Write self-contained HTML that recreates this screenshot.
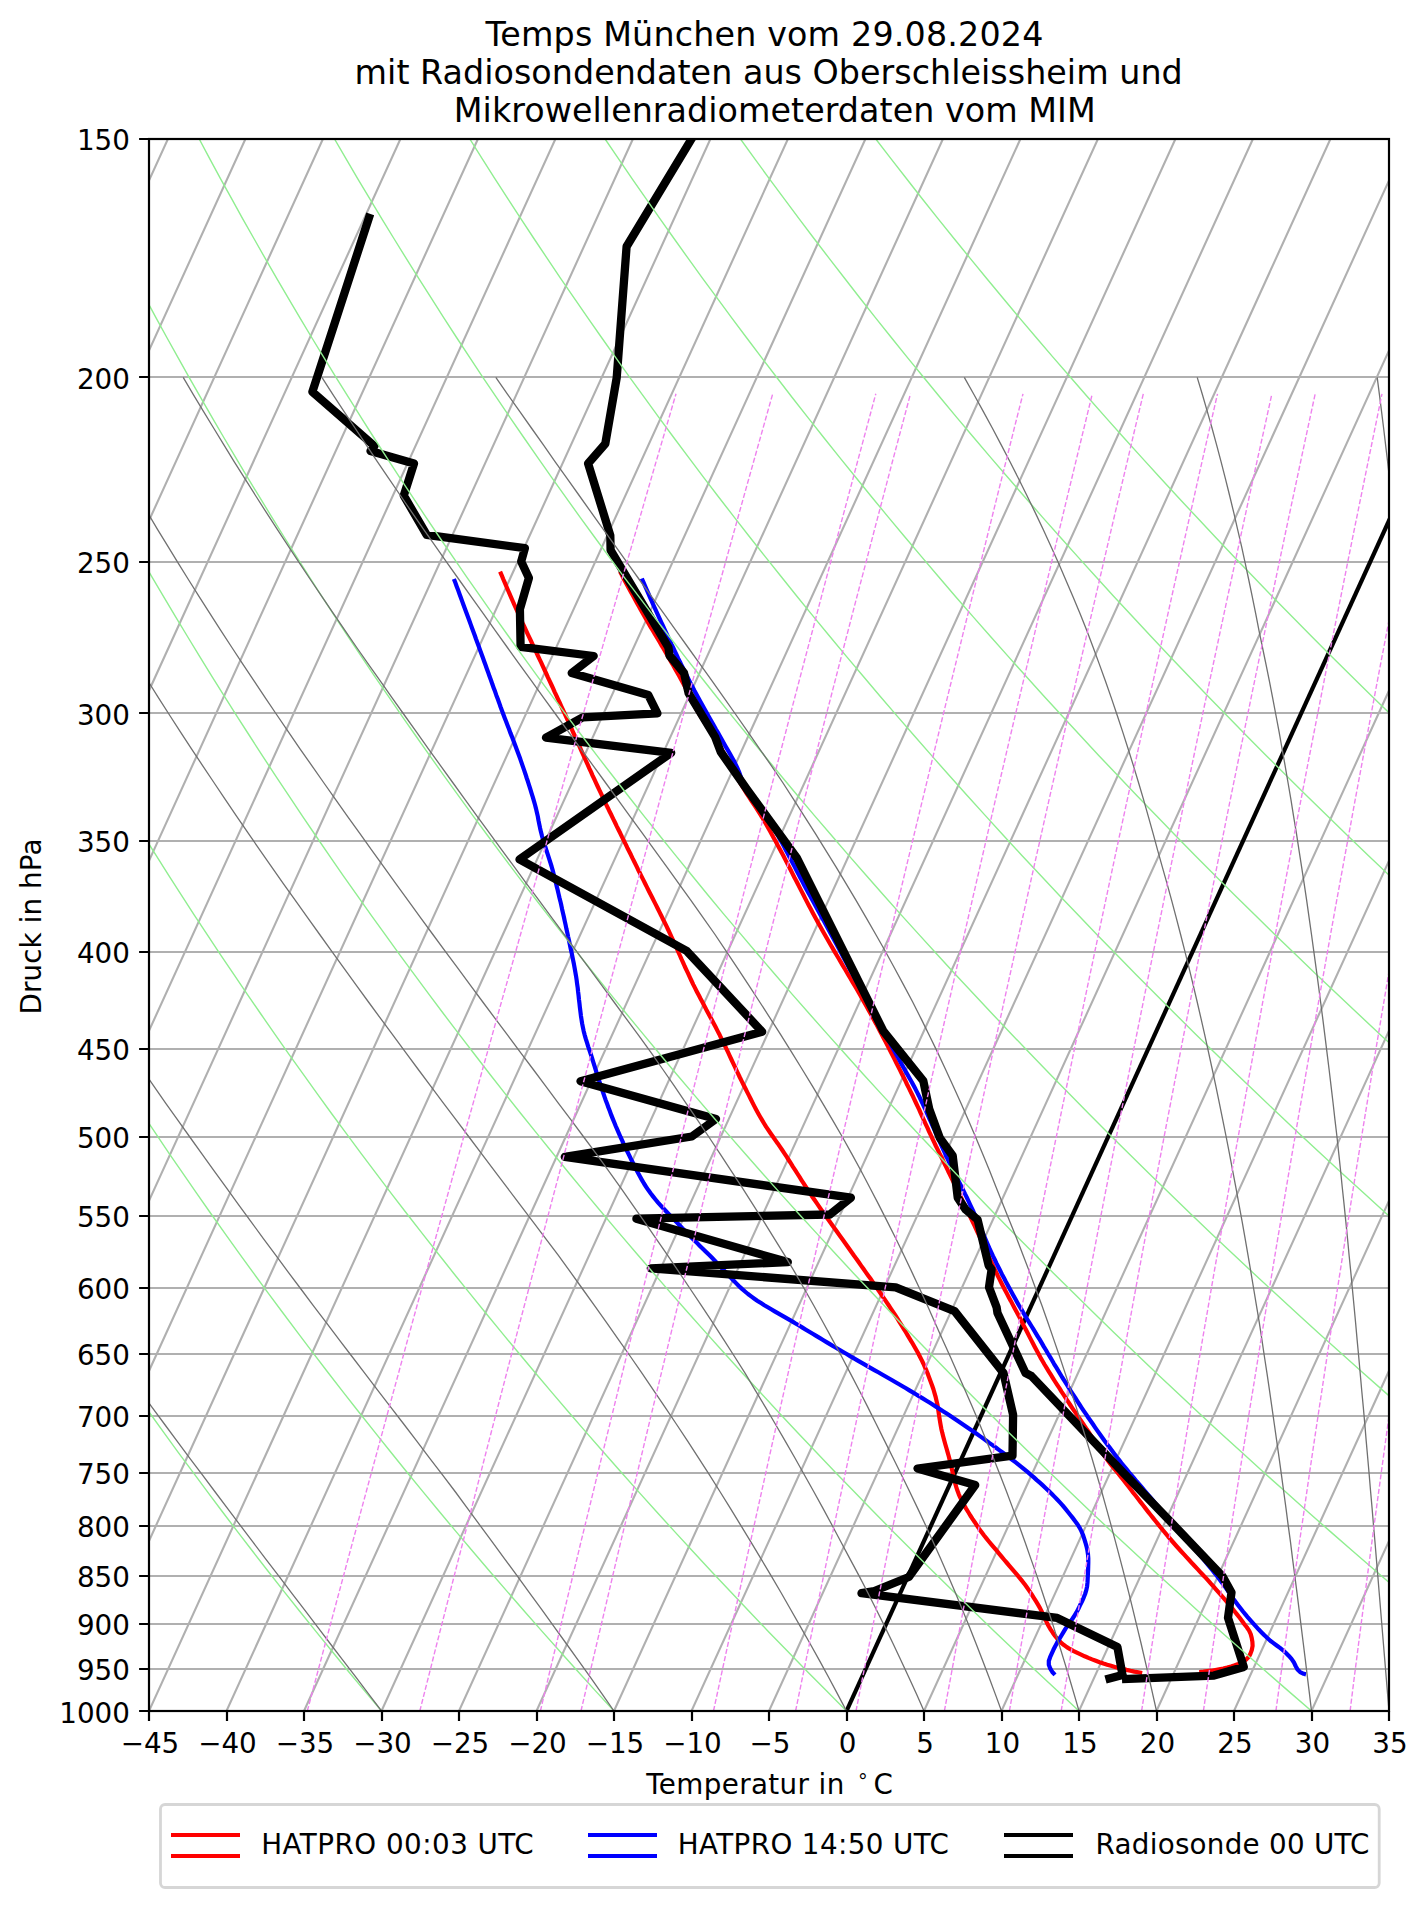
<!DOCTYPE html>
<html lang="de"><head><meta charset="utf-8"><title>Temps München</title>
<style>html,body{margin:0;padding:0;background:#fff}svg{display:block}</style></head><body>
<svg width="1427" height="1907" viewBox="0 0 1427 1907" font-family="DejaVu Sans, Liberation Sans, sans-serif" fill="#000">
<rect width="1427" height="1907" fill="#fff"/>
<defs><clipPath id="ax"><rect x="149.0" y="139.0" width="1240.0" height="1572.0"/></clipPath></defs>
<g clip-path="url(#ax)" fill="none" stroke-linejoin="round">
<path d="M149.0,377.0H1389.0M149.0,562.0H1389.0M149.0,713.0H1389.0M149.0,841.0H1389.0M149.0,952.0H1389.0M149.0,1049.0H1389.0M149.0,1137.0H1389.0M149.0,1216.0H1389.0M149.0,1288.0H1389.0M149.0,1354.0H1389.0M149.0,1416.0H1389.0M149.0,1473.0H1389.0M149.0,1526.0H1389.0M149.0,1576.0H1389.0M149.0,1624.0H1389.0M149.0,1669.0H1389.0" stroke="#b0b0b0" stroke-width="2.2"/>
<path d="M-1478.5,1711.0L-762.1,139.0M-1401.0,1711.0L-684.6,139.0M-1323.5,1711.0L-607.1,139.0M-1246.0,1711.0L-529.6,139.0M-1168.5,1711.0L-452.1,139.0M-1091.0,1711.0L-374.6,139.0M-1013.5,1711.0L-297.1,139.0M-936.0,1711.0L-219.6,139.0M-858.5,1711.0L-142.1,139.0M-781.0,1711.0L-64.6,139.0M-703.5,1711.0L12.9,139.0M-626.0,1711.0L90.4,139.0M-548.5,1711.0L167.9,139.0M-471.0,1711.0L245.4,139.0M-393.5,1711.0L322.9,139.0M-316.0,1711.0L400.4,139.0M-238.5,1711.0L477.9,139.0M-161.0,1711.0L555.4,139.0M-83.5,1711.0L632.9,139.0M-6.0,1711.0L710.4,139.0M71.5,1711.0L787.9,139.0M149.0,1711.0L865.4,139.0M226.5,1711.0L942.9,139.0M304.0,1711.0L1020.4,139.0M381.5,1711.0L1097.9,139.0M459.0,1711.0L1175.4,139.0M536.5,1711.0L1252.9,139.0M614.0,1711.0L1330.4,139.0M691.5,1711.0L1407.9,139.0M769.0,1711.0L1485.4,139.0M924.0,1711.0L1640.4,139.0M1001.5,1711.0L1717.9,139.0M1079.0,1711.0L1795.4,139.0M1156.5,1711.0L1872.9,139.0M1234.0,1711.0L1950.4,139.0M1311.5,1711.0L2027.9,139.0M1389.0,1711.0L2105.4,139.0" stroke="#b0b0b0" stroke-width="2.1"/>
<path d="M846.5,1711.0L1562.9,139.0" stroke="#000" stroke-width="4.2"/>
<path d="M620.0,571.6 L621.9,575.1 L623.7,578.7 L625.6,582.2 L627.5,585.7 L629.4,589.2 L631.3,592.8 L633.3,596.3 L635.2,599.8 L637.1,603.3 L639.1,606.8 L641.0,610.3 L643.0,613.7 L645.0,617.2 L647.0,620.7 L649.0,624.1 L651.0,627.6 L653.1,631.0 L655.1,634.5 L657.2,637.9 L659.2,641.3 L661.2,644.8 L663.3,648.2 L665.3,651.7 L667.3,655.1 L669.3,658.6 L671.3,662.1 L673.3,665.5 L675.2,669.0 L677.2,672.5 L679.2,676.0 L681.1,679.5 L683.0,683.0 L684.9,686.5 L686.8,690.1 L688.6,693.6 L690.4,697.2 L692.1,700.8 L693.9,704.4 L695.8,707.9 L697.7,711.4 L699.8,714.8 L701.9,718.2 L704.1,721.5 L706.4,724.8 L708.6,728.2 L710.9,731.5 L713.0,734.9 L715.1,738.3 L717.2,741.7 L719.2,745.1 L721.2,748.6 L723.2,752.1 L725.1,755.6 L727.0,759.1 L729.0,762.6 L730.9,766.1 L732.8,769.6 L734.8,773.1 L736.7,776.6 L738.7,780.1 L740.7,783.6 L742.7,787.0 L744.8,790.4 L746.9,793.8 L749.1,797.2 L751.3,800.5 L753.5,803.9 L755.7,807.2 L757.9,810.6 L760.0,813.9 L762.1,817.3 L764.1,820.8 L766.1,824.2 L768.1,827.7 L770.1,831.2 L772.0,834.7 L773.9,838.2 L775.9,841.7 L777.7,845.2 L779.6,848.7 L781.5,852.3 L783.4,855.8 L785.2,859.4 L787.0,862.9 L788.9,866.5 L790.7,870.0 L792.5,873.6 L794.3,877.2 L796.2,880.7 L798.0,884.3 L799.8,887.9 L801.6,891.4 L803.5,895.0 L805.3,898.6 L807.1,902.1 L809.0,905.7 L810.9,909.2 L812.7,912.7 L814.6,916.3 L816.5,919.8 L818.4,923.3 L820.4,926.8 L822.3,930.3 L824.3,933.8 L826.3,937.2 L828.3,940.7 L830.3,944.2 L832.3,947.6 L834.3,951.1 L836.3,954.5 L838.4,958.0 L840.4,961.4 L842.4,964.9 L844.5,968.3 L846.5,971.8 L848.5,975.2 L850.6,978.6 L852.6,982.1 L854.6,985.5 L856.7,989.0 L858.7,992.5 L860.7,995.9 L862.6,999.4 L864.6,1002.9 L866.6,1006.4 L868.5,1009.9 L870.5,1013.4 L872.4,1016.9 L874.3,1020.4 L876.2,1023.9 L878.0,1027.4 L879.9,1031.0 L881.8,1034.5 L883.6,1038.0 L885.5,1041.6 L887.3,1045.1 L889.2,1048.7 L891.0,1052.3 L892.8,1055.8 L894.6,1059.4 L896.4,1063.0 L898.2,1066.5 L900.0,1070.1 L901.8,1073.7 L903.6,1077.3 L905.4,1080.9 L907.1,1084.5 L908.9,1088.1 L910.6,1091.6 L912.4,1095.2 L914.1,1098.8 L915.8,1102.5 L917.5,1106.1 L919.2,1109.7 L920.8,1113.4 L922.5,1117.0 L924.1,1120.6 L925.8,1124.3 L927.5,1127.9 L929.1,1131.6 L930.8,1135.2 L932.5,1138.8 L934.2,1142.4 L935.9,1146.0 L937.7,1149.6 L939.4,1153.2 L941.2,1156.8 L943.0,1160.4 L944.7,1164.0 L946.5,1167.6 L948.2,1171.2 L950.0,1174.8 L951.7,1178.4 L953.5,1182.0 L955.2,1185.6 L957.0,1189.2 L958.7,1192.8 L960.5,1196.4 L962.2,1200.0 L964.0,1203.6 L965.7,1207.2 L967.5,1210.8 L969.2,1214.4 L970.9,1218.0 L972.6,1221.6 L974.3,1225.2 L976.0,1228.8 L977.7,1232.5 L979.4,1236.1 L981.1,1239.8 L982.7,1243.4 L984.4,1247.0 L986.0,1250.7 L987.7,1254.3 L989.4,1257.9 L991.1,1261.6 L992.8,1265.2 L994.5,1268.8 L996.2,1272.4 L997.9,1276.0 L999.7,1279.6 L1001.5,1283.2 L1003.3,1286.7 L1005.1,1290.3 L1007.0,1293.8 L1008.9,1297.4 L1010.8,1300.9 L1012.6,1304.4 L1014.5,1308.0 L1016.4,1311.5 L1018.3,1315.0 L1020.2,1318.6 L1022.0,1322.1 L1023.8,1325.7 L1025.7,1329.2 L1027.5,1332.8 L1029.3,1336.4 L1031.1,1339.9 L1033.0,1343.5 L1034.8,1347.0 L1036.7,1350.6 L1038.6,1354.1 L1040.5,1357.6 L1042.5,1361.0 L1044.5,1364.5 L1046.6,1367.9 L1048.7,1371.3 L1050.8,1374.7 L1052.9,1378.1 L1055.0,1381.5 L1057.2,1384.9 L1059.4,1388.2 L1061.5,1391.6 L1063.7,1394.9 L1065.9,1398.3 L1068.1,1401.6 L1070.3,1405.0 L1072.5,1408.3 L1074.8,1411.6 L1077.0,1414.9 L1079.3,1418.2 L1081.5,1421.5 L1083.8,1424.8 L1086.0,1428.2 L1088.3,1431.5 L1090.5,1434.8 L1092.7,1438.1 L1094.9,1441.4 L1097.1,1444.8 L1099.2,1448.2 L1101.4,1451.6 L1103.6,1454.9 L1106.0,1458.1 L1108.4,1461.3 L1110.8,1464.4 L1113.4,1467.6 L1115.9,1470.7 L1118.4,1473.8 L1120.9,1476.9 L1123.4,1480.0 L1125.9,1483.2 L1128.3,1486.3 L1130.8,1489.5 L1133.2,1492.7 L1135.7,1495.8 L1138.2,1499.0 L1140.6,1502.1 L1143.1,1505.3 L1145.5,1508.4 L1148.0,1511.6 L1150.5,1514.7 L1153.0,1517.9 L1155.5,1521.0 L1158.0,1524.1 L1160.5,1527.2 L1163.0,1530.3 L1165.6,1533.4 L1168.1,1536.5 L1170.7,1539.5 L1173.3,1542.5 L1175.9,1545.5 L1178.6,1548.5 L1181.3,1551.5 L1184.0,1554.4 L1186.7,1557.4 L1189.4,1560.3 L1192.1,1563.3 L1194.9,1566.2 L1197.6,1569.1 L1200.3,1572.1 L1203.0,1575.0 L1205.8,1577.9 L1208.5,1580.9 L1211.1,1583.9 L1213.8,1586.8 L1216.4,1589.8 L1219.1,1592.9 L1221.7,1595.9 L1224.3,1598.9 L1226.9,1602.0 L1229.4,1605.1 L1232.0,1608.1 L1234.5,1611.2 L1237.0,1614.4 L1239.5,1617.5 L1241.9,1620.7 L1244.2,1624.0 L1246.8,1627.2 L1249.1,1630.6 L1250.7,1634.1 L1251.7,1637.9 L1252.4,1641.9 L1252.6,1645.9 L1251.8,1650.0 L1250.4,1653.9 L1248.6,1657.1 L1245.9,1659.8 L1242.2,1662.1 L1238.4,1663.9 L1234.8,1665.3 L1231.1,1666.5 L1227.2,1667.6 L1223.2,1668.5 L1219.2,1669.3 L1215.3,1670.0 L1211.3,1670.7 L1207.4,1671.2 L1203.4,1671.7 L1199.4,1672.1 L1199.1,1672.1M500.1,571.6 L501.7,575.3 L503.2,579.0 L504.8,582.7 L506.3,586.3 L507.9,590.0 L509.5,593.7 L511.1,597.3 L512.7,601.0 L514.3,604.7 L516.0,608.3 L517.6,612.0 L519.2,615.6 L520.9,619.3 L522.5,622.9 L524.2,626.5 L525.9,630.2 L527.6,633.8 L529.3,637.4 L531.0,641.0 L532.7,644.6 L534.4,648.3 L536.1,651.9 L537.8,655.5 L539.5,659.1 L541.2,662.7 L542.9,666.4 L544.6,670.0 L546.3,673.6 L547.9,677.3 L549.6,680.9 L551.3,684.5 L553.0,688.2 L554.6,691.8 L556.3,695.4 L558.0,699.1 L559.7,702.7 L561.3,706.3 L563.0,710.0 L564.7,713.6 L566.3,717.2 L568.0,720.9 L569.6,724.5 L571.3,728.2 L572.9,731.8 L574.6,735.5 L576.2,739.1 L577.8,742.8 L579.5,746.4 L581.1,750.1 L582.7,753.7 L584.4,757.4 L586.0,761.0 L587.7,764.7 L589.3,768.3 L591.0,771.9 L592.6,775.6 L594.3,779.2 L596.0,782.9 L597.7,786.5 L599.4,790.1 L601.1,793.7 L602.8,797.3 L604.5,800.9 L606.2,804.6 L608.0,808.2 L609.7,811.8 L611.5,815.3 L613.2,818.9 L615.0,822.5 L616.7,826.1 L618.5,829.7 L620.3,833.3 L622.0,836.9 L623.8,840.5 L625.6,844.1 L627.3,847.7 L629.1,851.2 L630.9,854.8 L632.6,858.4 L634.4,862.0 L636.2,865.6 L637.9,869.2 L639.7,872.8 L641.5,876.4 L643.3,879.9 L645.1,883.5 L646.9,887.1 L648.7,890.7 L650.5,894.2 L652.3,897.8 L654.1,901.4 L655.9,904.9 L657.7,908.5 L659.5,912.1 L661.3,915.7 L663.0,919.3 L664.8,922.8 L666.6,926.4 L668.3,930.0 L670.0,933.7 L671.7,937.3 L673.4,940.9 L675.0,944.6 L676.7,948.2 L678.3,951.9 L679.9,955.5 L681.5,959.2 L683.2,962.8 L684.8,966.5 L686.5,970.1 L688.2,973.7 L689.9,977.4 L691.6,981.0 L693.3,984.6 L695.1,988.1 L696.9,991.7 L698.8,995.3 L700.6,998.8 L702.5,1002.3 L704.4,1005.9 L706.2,1009.4 L708.1,1012.9 L710.0,1016.5 L711.9,1020.0 L713.7,1023.5 L715.6,1027.1 L717.4,1030.6 L719.3,1034.2 L721.0,1037.8 L722.8,1041.4 L724.6,1045.0 L726.3,1048.6 L728.0,1052.2 L729.7,1055.8 L731.4,1059.5 L733.1,1063.1 L734.8,1066.7 L736.5,1070.3 L738.2,1073.9 L739.9,1077.5 L741.7,1081.1 L743.5,1084.7 L745.3,1088.3 L747.1,1091.9 L748.9,1095.4 L750.7,1099.0 L752.5,1102.6 L754.3,1106.1 L756.2,1109.7 L758.1,1113.2 L760.1,1116.7 L762.1,1120.1 L764.1,1123.5 L766.2,1126.9 L768.5,1130.2 L770.7,1133.5 L773.0,1136.8 L775.3,1140.1 L777.7,1143.4 L779.9,1146.7 L782.2,1150.0 L784.4,1153.3 L786.6,1156.7 L788.7,1160.0 L790.9,1163.4 L793.0,1166.8 L795.2,1170.1 L797.3,1173.5 L799.5,1176.9 L801.6,1180.3 L803.8,1183.7 L805.9,1187.0 L808.1,1190.4 L810.3,1193.7 L812.5,1197.0 L814.8,1200.3 L817.1,1203.6 L819.3,1206.9 L821.6,1210.2 L823.9,1213.5 L826.2,1216.7 L828.6,1220.0 L830.9,1223.2 L833.2,1226.5 L835.6,1229.7 L837.9,1233.0 L840.2,1236.2 L842.6,1239.5 L844.9,1242.7 L847.2,1246.0 L849.5,1249.3 L851.8,1252.5 L854.1,1255.8 L856.5,1259.0 L858.8,1262.3 L861.1,1265.6 L863.4,1268.8 L865.7,1272.1 L868.1,1275.4 L870.4,1278.6 L872.7,1281.9 L874.9,1285.2 L877.2,1288.5 L879.5,1291.8 L881.7,1295.1 L884.0,1298.4 L886.2,1301.7 L888.5,1305.0 L890.7,1308.3 L892.9,1311.7 L895.1,1315.0 L897.3,1318.4 L899.4,1321.8 L901.5,1325.2 L903.6,1328.6 L905.7,1332.0 L907.7,1335.4 L909.8,1338.9 L911.9,1342.3 L913.9,1345.8 L915.9,1349.3 L917.9,1352.8 L919.7,1356.3 L921.6,1359.9 L923.3,1363.5 L924.9,1367.1 L926.5,1370.7 L928.0,1374.4 L929.4,1378.2 L930.8,1381.9 L932.2,1385.7 L933.5,1389.5 L934.6,1393.4 L935.7,1397.2 L936.6,1401.1 L937.5,1405.0 L938.1,1408.9 L938.7,1412.9 L939.3,1416.9 L939.9,1420.8 L940.6,1424.8 L941.3,1428.7 L942.2,1432.6 L943.2,1436.5 L944.2,1440.3 L945.3,1444.2 L946.4,1448.0 L947.5,1451.9 L948.6,1455.8 L949.6,1459.6 L950.6,1463.5 L951.5,1467.4 L952.4,1471.4 L953.2,1475.3 L954.1,1479.2 L955.1,1483.1 L956.2,1486.9 L957.4,1490.6 L958.8,1494.3 L960.4,1497.9 L962.2,1501.5 L964.1,1505.1 L966.1,1508.6 L968.2,1512.0 L970.3,1515.5 L972.5,1518.9 L974.8,1522.2 L977.0,1525.6 L979.2,1528.9 L981.5,1532.1 L983.9,1535.3 L986.4,1538.4 L988.9,1541.5 L991.5,1544.6 L994.1,1547.7 L996.7,1550.7 L999.3,1553.8 L1001.8,1556.9 L1004.4,1560.0 L1007.0,1563.0 L1009.6,1566.1 L1012.2,1569.1 L1014.8,1572.1 L1017.4,1575.2 L1020.0,1578.3 L1022.5,1581.4 L1024.9,1584.6 L1027.2,1587.8 L1029.5,1591.1 L1031.7,1594.4 L1033.8,1597.8 L1035.9,1601.2 L1038.0,1604.7 L1040.0,1608.1 L1041.8,1611.7 L1043.5,1615.3 L1045.2,1619.0 L1046.9,1622.7 L1048.7,1626.2 L1050.7,1629.6 L1052.9,1632.9 L1055.3,1636.2 L1057.9,1639.4 L1060.7,1642.3 L1063.6,1644.8 L1066.8,1647.1 L1070.2,1649.2 L1073.7,1651.1 L1077.4,1652.9 L1081.1,1654.6 L1084.7,1656.3 L1088.4,1657.9 L1092.1,1659.4 L1095.8,1660.8 L1099.6,1662.2 L1103.4,1663.5 L1107.2,1664.7 L1111.0,1665.8 L1114.9,1666.9 L1118.7,1668.0 L1122.6,1668.9 L1126.5,1669.9 L1130.4,1670.8 L1134.3,1671.6 L1138.3,1672.3 L1142.2,1673.0" stroke="#ff0000" stroke-width="4.2" stroke-linecap="butt"/>
<path d="M641.8,578.5 L643.4,582.2 L645.0,585.8 L646.6,589.5 L648.2,593.2 L649.8,596.8 L651.4,600.5 L653.0,604.2 L654.7,607.8 L656.3,611.4 L658.0,615.1 L659.6,618.7 L661.3,622.4 L663.0,626.0 L664.7,629.6 L666.4,633.3 L668.0,636.9 L669.7,640.5 L671.4,644.1 L673.2,647.7 L674.9,651.3 L676.6,655.0 L678.3,658.6 L680.1,662.2 L681.8,665.8 L683.6,669.3 L685.4,672.9 L687.2,676.5 L689.0,680.1 L690.8,683.6 L692.7,687.2 L694.5,690.7 L696.4,694.2 L698.3,697.7 L700.2,701.2 L702.2,704.7 L704.1,708.2 L706.1,711.7 L708.0,715.2 L710.0,718.7 L712.0,722.2 L714.0,725.7 L715.9,729.2 L717.9,732.6 L719.8,736.1 L721.8,739.6 L723.7,743.1 L725.7,746.6 L727.8,750.1 L729.8,753.5 L731.7,757.0 L733.7,760.5 L735.5,764.1 L737.2,767.7 L738.8,771.3 L740.2,775.1 L741.7,778.9 L743.1,782.6 L744.7,786.3 L746.4,789.8 L748.4,793.2 L750.6,796.5 L753.0,799.7 L755.6,802.8 L758.1,805.9 L760.7,809.1 L763.2,812.2 L765.6,815.4 L767.8,818.8 L769.9,822.1 L772.0,825.5 L774.1,828.9 L776.1,832.4 L778.1,835.8 L780.0,839.3 L782.0,842.8 L783.9,846.3 L785.8,849.9 L787.6,853.4 L789.5,857.0 L791.4,860.5 L793.2,864.1 L795.1,867.6 L796.9,871.2 L798.8,874.7 L800.6,878.3 L802.5,881.8 L804.4,885.4 L806.3,888.9 L808.2,892.4 L810.2,895.9 L812.1,899.4 L814.0,902.9 L815.9,906.4 L817.8,910.0 L819.7,913.5 L821.6,917.0 L823.6,920.5 L825.5,924.0 L827.4,927.5 L829.3,931.0 L831.2,934.6 L833.1,938.1 L835.0,941.6 L836.9,945.1 L838.8,948.6 L840.7,952.1 L842.6,955.7 L844.5,959.2 L846.4,962.7 L848.3,966.2 L850.2,969.7 L852.2,973.2 L854.1,976.8 L856.0,980.3 L857.9,983.8 L859.8,987.3 L861.7,990.8 L863.6,994.4 L865.5,997.9 L867.4,1001.4 L869.3,1004.9 L871.2,1008.4 L873.1,1011.9 L875.0,1015.4 L876.9,1019.0 L878.8,1022.5 L880.7,1026.0 L882.7,1029.5 L884.6,1033.0 L886.5,1036.5 L888.4,1040.0 L890.3,1043.6 L892.2,1047.1 L894.1,1050.6 L896.1,1054.1 L898.0,1057.6 L899.9,1061.1 L901.9,1064.6 L903.8,1068.1 L905.8,1071.6 L907.8,1075.1 L909.7,1078.5 L911.7,1082.0 L913.6,1085.6 L915.5,1089.1 L917.3,1092.6 L919.1,1096.2 L920.8,1099.8 L922.5,1103.4 L924.2,1107.0 L925.9,1110.7 L927.5,1114.3 L929.1,1118.0 L930.8,1121.6 L932.4,1125.3 L934.0,1129.0 L935.6,1132.6 L937.3,1136.3 L938.9,1139.9 L940.6,1143.6 L942.2,1147.2 L943.9,1150.9 L945.5,1154.5 L947.2,1158.1 L948.9,1161.7 L950.7,1165.3 L952.4,1168.9 L954.2,1172.5 L956.1,1176.0 L957.9,1179.6 L959.7,1183.2 L961.5,1186.8 L963.3,1190.3 L965.0,1193.9 L966.8,1197.5 L968.5,1201.1 L970.2,1204.8 L971.9,1208.4 L973.6,1212.0 L975.2,1215.7 L976.8,1219.3 L978.4,1223.0 L980.0,1226.7 L981.6,1230.3 L983.2,1234.0 L984.8,1237.7 L986.4,1241.4 L988.0,1245.0 L989.6,1248.7 L991.3,1252.3 L992.9,1255.9 L994.7,1259.5 L996.4,1263.1 L998.2,1266.7 L1000.0,1270.3 L1001.8,1273.9 L1003.7,1277.4 L1005.5,1281.0 L1007.4,1284.5 L1009.3,1288.0 L1011.2,1291.5 L1013.1,1295.0 L1015.1,1298.5 L1017.0,1302.0 L1019.0,1305.5 L1021.1,1308.9 L1023.1,1312.4 L1025.2,1315.8 L1027.2,1319.2 L1029.3,1322.6 L1031.4,1326.0 L1033.5,1329.4 L1035.6,1332.8 L1037.7,1336.3 L1039.8,1339.7 L1041.8,1343.1 L1043.8,1346.6 L1045.9,1350.0 L1047.9,1353.5 L1050.0,1356.9 L1052.0,1360.3 L1054.0,1363.8 L1056.1,1367.2 L1058.2,1370.6 L1060.2,1374.0 L1062.3,1377.5 L1064.5,1380.8 L1066.6,1384.2 L1068.7,1387.6 L1070.8,1391.0 L1073.0,1394.4 L1075.2,1397.7 L1077.3,1401.1 L1079.5,1404.5 L1081.7,1407.8 L1083.9,1411.1 L1086.2,1414.4 L1088.4,1417.8 L1090.7,1421.0 L1093.0,1424.3 L1095.2,1427.6 L1097.5,1430.9 L1099.9,1434.2 L1102.2,1437.4 L1104.5,1440.7 L1106.9,1443.9 L1109.3,1447.1 L1111.7,1450.3 L1114.1,1453.5 L1116.5,1456.7 L1119.0,1459.8 L1121.4,1463.0 L1123.9,1466.1 L1126.5,1469.2 L1129.0,1472.3 L1131.6,1475.3 L1134.2,1478.4 L1136.7,1481.5 L1139.3,1484.5 L1141.9,1487.5 L1144.5,1490.6 L1147.1,1493.6 L1149.7,1496.7 L1152.3,1499.7 L1154.9,1502.8 L1157.5,1505.9 L1160.0,1508.9 L1162.6,1512.0 L1165.3,1515.0 L1167.9,1518.0 L1170.5,1521.0 L1173.1,1524.1 L1175.8,1527.1 L1178.4,1530.1 L1181.0,1533.1 L1183.7,1536.1 L1186.3,1539.2 L1188.9,1542.2 L1191.5,1545.2 L1194.1,1548.3 L1196.7,1551.3 L1199.3,1554.3 L1201.9,1557.4 L1204.4,1560.5 L1207.0,1563.6 L1209.5,1566.7 L1212.0,1569.8 L1214.5,1572.9 L1217.0,1576.0 L1219.4,1579.2 L1221.8,1582.4 L1224.2,1585.6 L1226.5,1588.9 L1228.7,1592.2 L1231.0,1595.5 L1233.3,1598.8 L1235.7,1602.0 L1238.1,1605.2 L1240.5,1608.3 L1243.0,1611.5 L1245.6,1614.6 L1248.1,1617.7 L1250.7,1620.7 L1253.4,1623.7 L1256.1,1626.6 L1258.8,1629.6 L1261.6,1632.4 L1264.4,1635.3 L1267.3,1638.0 L1270.3,1640.7 L1273.5,1643.1 L1276.7,1645.5 L1280.0,1647.9 L1283.1,1650.3 L1286.0,1653.0 L1288.9,1655.9 L1291.5,1658.9 L1293.8,1662.2 L1295.6,1666.0 L1297.5,1669.6 L1300.1,1672.1 L1303.7,1673.8 L1306.0,1674.4M453.9,578.9 L455.3,582.6 L456.7,586.4 L458.1,590.1 L459.5,593.9 L460.9,597.7 L462.2,601.4 L463.6,605.2 L465.0,608.9 L466.4,612.7 L467.8,616.4 L469.2,620.2 L470.5,623.9 L471.9,627.7 L473.3,631.4 L474.7,635.2 L476.0,639.0 L477.4,642.7 L478.8,646.5 L480.1,650.2 L481.5,654.0 L482.9,657.8 L484.2,661.5 L485.6,665.3 L486.9,669.0 L488.3,672.8 L489.6,676.6 L491.0,680.3 L492.3,684.1 L493.7,687.9 L495.1,691.6 L496.4,695.4 L497.8,699.1 L499.2,702.9 L500.5,706.7 L501.9,710.4 L503.3,714.2 L504.7,717.9 L506.1,721.6 L507.6,725.4 L509.0,729.1 L510.4,732.9 L511.9,736.6 L513.3,740.3 L514.7,744.1 L516.1,747.8 L517.5,751.6 L518.9,755.3 L520.3,759.1 L521.6,762.9 L522.9,766.6 L524.2,770.4 L525.5,774.2 L526.7,778.0 L528.0,781.8 L529.2,785.6 L530.4,789.4 L531.6,793.3 L532.8,797.1 L533.9,800.9 L535.0,804.8 L536.0,808.6 L536.9,812.5 L537.8,816.4 L538.5,820.4 L539.3,824.3 L540.1,828.2 L541.0,832.1 L542.0,836.0 L543.1,839.8 L544.3,843.6 L545.5,847.4 L546.7,851.3 L548.0,855.1 L549.2,858.9 L550.4,862.7 L551.6,866.5 L552.7,870.4 L553.7,874.2 L554.7,878.1 L555.7,882.0 L556.6,885.9 L557.6,889.7 L558.5,893.6 L559.4,897.5 L560.4,901.4 L561.3,905.3 L562.1,909.2 L563.0,913.1 L563.9,917.0 L564.7,920.9 L565.6,924.9 L566.4,928.8 L567.3,932.7 L568.1,936.6 L569.0,940.5 L569.8,944.4 L570.6,948.3 L571.5,952.2 L572.3,956.2 L573.1,960.1 L573.9,964.0 L574.6,967.9 L575.3,971.9 L576.0,975.8 L576.6,979.8 L577.1,983.7 L577.7,987.7 L578.1,991.7 L578.6,995.7 L579.0,999.7 L579.5,1003.7 L579.9,1007.6 L580.4,1011.6 L580.9,1015.6 L581.5,1019.5 L582.1,1023.4 L582.9,1027.3 L583.7,1031.2 L584.7,1035.1 L585.8,1038.9 L587.0,1042.7 L588.2,1046.6 L589.5,1050.4 L590.8,1054.2 L592.0,1058.0 L593.2,1061.8 L594.4,1065.7 L595.6,1069.5 L596.8,1073.3 L598.0,1077.1 L599.2,1080.9 L600.4,1084.7 L601.7,1088.5 L603.0,1092.3 L604.3,1096.1 L605.6,1099.9 L607.0,1103.6 L608.4,1107.4 L609.8,1111.1 L611.2,1114.9 L612.7,1118.6 L614.2,1122.3 L615.7,1126.0 L617.3,1129.7 L618.9,1133.3 L620.5,1137.0 L622.2,1140.6 L623.8,1144.3 L625.6,1147.9 L627.3,1151.5 L629.1,1155.1 L630.8,1158.7 L632.6,1162.3 L634.4,1165.9 L636.2,1169.5 L638.1,1173.1 L640.0,1176.6 L642.0,1180.1 L644.0,1183.5 L646.1,1186.8 L648.3,1190.1 L650.6,1193.3 L653.0,1196.4 L655.5,1199.5 L658.1,1202.6 L660.8,1205.6 L663.5,1208.5 L666.3,1211.5 L669.1,1214.4 L671.9,1217.3 L674.7,1220.2 L677.5,1223.1 L680.2,1226.0 L683.0,1228.9 L685.8,1231.8 L688.6,1234.6 L691.4,1237.5 L694.2,1240.3 L697.1,1243.1 L699.9,1245.9 L702.8,1248.7 L705.6,1251.5 L708.5,1254.3 L711.3,1257.1 L714.1,1260.0 L716.9,1262.9 L719.7,1265.8 L722.4,1268.8 L725.2,1271.7 L727.9,1274.7 L730.7,1277.6 L733.5,1280.5 L736.3,1283.4 L739.1,1286.2 L742.0,1288.9 L745.0,1291.5 L748.0,1294.0 L751.2,1296.4 L754.4,1298.7 L757.6,1300.9 L761.0,1303.1 L764.3,1305.2 L767.8,1307.3 L771.2,1309.3 L774.7,1311.4 L778.2,1313.4 L781.7,1315.4 L785.2,1317.4 L788.7,1319.4 L792.2,1321.4 L795.6,1323.5 L799.1,1325.5 L802.5,1327.6 L805.9,1329.7 L809.3,1331.8 L812.7,1333.8 L816.2,1335.9 L819.6,1337.9 L823.0,1340.0 L826.5,1342.1 L829.9,1344.1 L833.3,1346.2 L836.8,1348.2 L840.2,1350.3 L843.6,1352.3 L847.1,1354.3 L850.5,1356.4 L854.0,1358.4 L857.4,1360.4 L860.9,1362.4 L864.4,1364.4 L867.8,1366.4 L871.3,1368.4 L874.8,1370.3 L878.3,1372.3 L881.7,1374.3 L885.2,1376.3 L888.7,1378.3 L892.2,1380.3 L895.6,1382.3 L899.1,1384.3 L902.5,1386.3 L906.0,1388.3 L909.4,1390.4 L912.8,1392.4 L916.3,1394.5 L919.7,1396.6 L923.1,1398.6 L926.5,1400.7 L929.9,1402.8 L933.3,1405.0 L936.7,1407.1 L940.0,1409.3 L943.4,1411.5 L946.7,1413.6 L950.1,1415.8 L953.4,1418.0 L956.8,1420.3 L960.1,1422.5 L963.4,1424.7 L966.7,1427.0 L970.0,1429.2 L973.3,1431.5 L976.6,1433.8 L979.9,1436.1 L983.1,1438.4 L986.4,1440.7 L989.6,1443.1 L992.9,1445.4 L996.1,1447.8 L999.3,1450.1 L1002.6,1452.5 L1005.8,1454.9 L1009.0,1457.3 L1012.2,1459.7 L1015.4,1462.2 L1018.5,1464.6 L1021.6,1467.1 L1024.7,1469.7 L1027.8,1472.2 L1030.9,1474.8 L1033.9,1477.4 L1036.8,1480.1 L1039.8,1482.7 L1042.8,1485.4 L1045.8,1488.2 L1048.7,1490.9 L1051.6,1493.7 L1054.4,1496.6 L1057.2,1499.5 L1059.9,1502.4 L1062.6,1505.4 L1065.1,1508.4 L1067.6,1511.5 L1070.2,1514.7 L1072.7,1517.9 L1075.2,1521.2 L1077.6,1524.5 L1079.7,1527.9 L1081.5,1531.4 L1083.0,1535.0 L1084.2,1538.7 L1085.4,1542.5 L1086.5,1546.4 L1087.4,1550.4 L1088.0,1554.4 L1088.3,1558.4 L1088.3,1562.4 L1088.2,1566.4 L1088.1,1570.4 L1087.9,1574.4 L1087.7,1578.5 L1087.5,1582.4 L1087.1,1586.3 L1086.3,1590.2 L1085.1,1594.0 L1083.6,1597.8 L1081.9,1601.5 L1080.1,1605.2 L1078.4,1608.8 L1076.6,1612.2 L1074.5,1615.6 L1072.3,1619.0 L1070.0,1622.3 L1067.7,1625.6 L1065.4,1628.9 L1063.3,1632.4 L1061.3,1635.8 L1059.2,1639.2 L1057.1,1642.7 L1055.2,1646.2 L1053.4,1649.8 L1051.8,1653.4 L1050.1,1657.2 L1048.8,1661.0 L1048.8,1664.8 L1050.3,1668.7 L1052.3,1672.0 L1055.0,1674.9" stroke="#0000ff" stroke-width="4.2" stroke-linecap="butt"/>
<path d="M703.5,119.2 L691.4,139.2 L626.6,246.5 L616.7,377.7 L605.3,443.8 L588.1,463.5 L610.3,535.4 L610.6,550.1 L668.4,647.3 L669.5,655.5 L684.0,673.0 L688.6,693.2 L715.2,737.2 L720.7,751.9 L747.3,789.9 L796.7,857.7 L883.4,1031.1 L923.3,1080.9 L929.2,1108.8 L939.8,1137.9 L952.7,1155.8 L957.7,1197.6 L965.7,1209.6 L977.6,1219.6 L988.6,1265.4 L991.6,1269.4 L989.0,1287.3 L996.6,1307.2 L997.5,1313.0 L1025.5,1373.0 L1031.4,1376.0 L1125.1,1474.6 L1172.9,1524.1 L1222.8,1576.7 L1231.5,1592.4 L1228.0,1617.8 L1243.8,1666.9 L1214.0,1675.6 L1122.0,1679.1M370.2,213.9 L312.4,391.8 L374.4,446.0 L370.5,451.0 L414.0,463.5 L403.8,495.6 L426.7,534.9 L524.9,548.1 L521.2,561.5 L528.9,578.0 L519.9,609.2 L520.6,646.8 L593.7,656.0 L571.7,673.0 L648.3,695.0 L657.4,713.4 L582.7,717.4 L546.0,737.6 L671.2,752.8 L519.5,859.4 L686.6,950.9 L762.2,1031.8 L580.5,1081.2 L716.0,1119.0 L691.8,1136.5 L564.8,1156.9 L850.9,1197.7 L829.9,1214.5 L636.4,1218.7 L787.8,1262.1 L650.8,1268.3 L895.7,1287.4 L954.6,1311.2 L1003.4,1372.8 L1013.1,1414.7 L1012.5,1455.6 L917.5,1468.5 L975.2,1485.0 L908.8,1577.0 L874.4,1591.0 L861.5,1593.2 L1057.2,1617.9 L1117.4,1646.9 L1122.5,1674.9 L1105.5,1679.6" stroke="#000" stroke-width="8.3" stroke-linejoin="round" stroke-linecap="butt"/>
<path d="M381.5,1711.0 L364.8,1691.1 L348.3,1671.2 L332.0,1651.3 L315.9,1631.4 L299.9,1611.5 L284.1,1591.6 L268.5,1571.7 L253.0,1551.8 L237.7,1531.9 L222.6,1512.0 L207.7,1492.1 L192.9,1472.2 L178.2,1452.3 L163.7,1432.4 L149.4,1412.5 L135.3,1392.6 L121.3,1372.7 L107.5,1352.8 L93.8,1332.9 L80.3,1313.0 L66.9,1293.1 L53.7,1273.2 L40.6,1253.3 L27.7,1233.4 L14.9,1213.5 L2.3,1193.6 L-10.2,1173.7 L-22.5,1153.8 L-34.6,1133.9 L-46.7,1114.0 L-58.6,1094.1 L-70.3,1074.2 L-81.9,1054.3 L-93.4,1034.4 L-104.7,1014.5 L-115.9,994.6 L-126.9,974.7 L-137.8,954.8 L-148.6,934.9 L-159.2,915.1 L-169.7,895.2 L-180.1,875.3 L-190.3,855.4 L-200.4,835.5 L-210.4,815.6 L-220.2,795.7 L-229.9,775.8 L-239.5,755.9 L-248.9,736.0 L-258.3,716.1 L-267.5,696.2 L-276.5,676.3 L-285.5,656.4 L-294.3,636.5 L-303.0,616.6 L-311.6,596.7 L-320.1,576.8 L-328.4,556.9 L-336.6,537.0 L-344.8,517.1 L-352.8,497.2 L-360.6,477.3 L-368.4,457.4 L-376.0,437.5 L-383.6,417.6 L-391.0,397.7 L-398.3,377.8 L-405.5,357.9 L-412.6,338.0 L-419.5,318.1 L-426.4,298.2 L-433.1,278.3 L-439.8,258.4 L-446.3,238.5 L-452.8,218.6 L-459.1,198.7 L-465.3,178.8 L-471.4,158.9 L-477.4,139.0M614.0,1711.0 L595.7,1691.1 L577.7,1671.2 L559.8,1651.3 L542.1,1631.4 L524.6,1611.5 L507.3,1591.6 L490.1,1571.7 L473.1,1551.8 L456.3,1531.9 L439.7,1512.0 L423.3,1492.1 L407.0,1472.2 L390.9,1452.3 L375.0,1432.4 L359.2,1412.5 L343.6,1392.6 L328.2,1372.7 L313.0,1352.8 L297.9,1332.9 L283.0,1313.0 L268.2,1293.1 L253.6,1273.2 L239.2,1253.3 L224.9,1233.4 L210.8,1213.5 L196.9,1193.6 L183.1,1173.7 L169.4,1153.8 L156.0,1133.9 L142.6,1114.0 L129.5,1094.1 L116.4,1074.2 L103.6,1054.3 L90.8,1034.4 L78.3,1014.5 L65.8,994.6 L53.5,974.7 L41.4,954.8 L29.4,934.9 L17.6,915.1 L5.9,895.2 L-5.7,875.3 L-17.1,855.4 L-28.4,835.5 L-39.5,815.6 L-50.5,795.7 L-61.4,775.8 L-72.1,755.9 L-82.7,736.0 L-93.2,716.1 L-103.5,696.2 L-113.7,676.3 L-123.8,656.4 L-133.7,636.5 L-143.5,616.6 L-153.2,596.7 L-162.7,576.8 L-172.2,556.9 L-181.5,537.0 L-190.6,517.1 L-199.7,497.2 L-208.6,477.3 L-217.4,457.4 L-226.1,437.5 L-234.6,417.6 L-243.1,397.7 L-251.4,377.8 L-259.6,357.9 L-267.6,338.0 L-275.6,318.1 L-283.4,298.2 L-291.2,278.3 L-298.8,258.4 L-306.3,238.5 L-313.7,218.6 L-321.0,198.7 L-328.1,178.8 L-335.2,158.9 L-342.1,139.0M846.5,1711.0 L826.7,1691.1 L807.0,1671.2 L787.6,1651.3 L768.3,1631.4 L749.3,1611.5 L730.4,1591.6 L711.7,1571.7 L693.2,1551.8 L674.9,1531.9 L656.8,1512.0 L638.9,1492.1 L621.2,1472.2 L603.6,1452.3 L586.2,1432.4 L569.0,1412.5 L552.0,1392.6 L535.2,1372.7 L518.5,1352.8 L502.0,1332.9 L485.7,1313.0 L469.6,1293.1 L453.6,1273.2 L437.8,1253.3 L422.2,1233.4 L406.7,1213.5 L391.4,1193.6 L376.3,1173.7 L361.4,1153.8 L346.6,1133.9 L331.9,1114.0 L317.5,1094.1 L303.2,1074.2 L289.0,1054.3 L275.0,1034.4 L261.2,1014.5 L247.5,994.6 L234.0,974.7 L220.6,954.8 L207.4,934.9 L194.3,915.1 L181.4,895.2 L168.7,875.3 L156.1,855.4 L143.6,835.5 L131.3,815.6 L119.1,795.7 L107.1,775.8 L95.2,755.9 L83.5,736.0 L71.9,716.1 L60.4,696.2 L49.1,676.3 L37.9,656.4 L26.9,636.5 L16.0,616.6 L5.2,596.7 L-5.4,576.8 L-15.9,556.9 L-26.3,537.0 L-36.5,517.1 L-46.6,497.2 L-56.6,477.3 L-66.4,457.4 L-76.1,437.5 L-85.7,417.6 L-95.1,397.7 L-104.4,377.8 L-113.6,357.9 L-122.7,338.0 L-131.7,318.1 L-140.5,298.2 L-149.2,278.3 L-157.8,258.4 L-166.3,238.5 L-174.6,218.6 L-182.8,198.7 L-190.9,178.8 L-198.9,158.9 L-206.8,139.0M1079.0,1711.0 L1057.6,1691.1 L1036.4,1671.2 L1015.3,1651.3 L994.5,1631.4 L973.9,1611.5 L953.5,1591.6 L933.3,1571.7 L913.3,1551.8 L893.5,1531.9 L873.9,1512.0 L854.5,1492.1 L835.3,1472.2 L816.3,1452.3 L797.5,1432.4 L778.8,1412.5 L760.4,1392.6 L742.1,1372.7 L724.0,1352.8 L706.1,1332.9 L688.4,1313.0 L670.9,1293.1 L653.6,1273.2 L636.4,1253.3 L619.4,1233.4 L602.6,1213.5 L586.0,1193.6 L569.5,1173.7 L553.3,1153.8 L537.2,1133.9 L521.2,1114.0 L505.5,1094.1 L489.9,1074.2 L474.5,1054.3 L459.2,1034.4 L444.1,1014.5 L429.2,994.6 L414.4,974.7 L399.8,954.8 L385.4,934.9 L371.1,915.1 L357.0,895.2 L343.0,875.3 L329.2,855.4 L315.6,835.5 L302.1,815.6 L288.8,795.7 L275.6,775.8 L262.5,755.9 L249.7,736.0 L236.9,716.1 L224.3,696.2 L211.9,676.3 L199.6,656.4 L187.5,636.5 L175.5,616.6 L163.6,596.7 L151.9,576.8 L140.4,556.9 L128.9,537.0 L117.6,517.1 L106.5,497.2 L95.5,477.3 L84.6,457.4 L73.9,437.5 L63.3,417.6 L52.8,397.7 L42.5,377.8 L32.3,357.9 L22.2,338.0 L12.3,318.1 L2.4,298.2 L-7.2,278.3 L-16.8,258.4 L-26.2,238.5 L-35.5,218.6 L-44.7,198.7 L-53.7,178.8 L-62.7,158.9 L-71.5,139.0M1311.5,1711.0 L1288.5,1691.1 L1265.7,1671.2 L1243.1,1651.3 L1220.7,1631.4 L1198.6,1611.5 L1176.7,1591.6 L1154.9,1571.7 L1133.4,1551.8 L1112.1,1531.9 L1091.0,1512.0 L1070.1,1492.1 L1049.5,1472.2 L1029.0,1452.3 L1008.7,1432.4 L988.6,1412.5 L968.7,1392.6 L949.0,1372.7 L929.6,1352.8 L910.3,1332.9 L891.2,1313.0 L872.3,1293.1 L853.5,1273.2 L835.0,1253.3 L816.7,1233.4 L798.5,1213.5 L780.6,1193.6 L762.8,1173.7 L745.2,1153.8 L727.8,1133.9 L710.5,1114.0 L693.5,1094.1 L676.6,1074.2 L659.9,1054.3 L643.4,1034.4 L627.0,1014.5 L610.9,994.6 L594.9,974.7 L579.0,954.8 L563.4,934.9 L547.9,915.1 L532.6,895.2 L517.4,875.3 L502.4,855.4 L487.6,835.5 L472.9,815.6 L458.4,795.7 L444.1,775.8 L429.9,755.9 L415.9,736.0 L402.0,716.1 L388.3,696.2 L374.7,676.3 L361.3,656.4 L348.1,636.5 L335.0,616.6 L322.0,596.7 L309.3,576.8 L296.6,556.9 L284.1,537.0 L271.8,517.1 L259.6,497.2 L247.5,477.3 L235.6,457.4 L223.8,437.5 L212.2,417.6 L200.7,397.7 L189.4,377.8 L178.2,357.9 L167.1,338.0 L156.2,318.1 L145.4,298.2 L134.7,278.3 L124.2,258.4 L113.8,238.5 L103.6,218.6 L93.4,198.7 L83.4,178.8 L73.6,158.9 L63.9,139.0M1544.0,1711.0 L1519.4,1691.1 L1495.0,1671.2 L1470.9,1651.3 L1447.0,1631.4 L1423.3,1611.5 L1399.8,1591.6 L1376.6,1571.7 L1353.5,1551.8 L1330.7,1531.9 L1308.1,1512.0 L1285.8,1492.1 L1263.6,1472.2 L1241.7,1452.3 L1219.9,1432.4 L1198.4,1412.5 L1177.1,1392.6 L1156.0,1372.7 L1135.1,1352.8 L1114.4,1332.9 L1093.9,1313.0 L1073.6,1293.1 L1053.5,1273.2 L1033.6,1253.3 L1013.9,1233.4 L994.4,1213.5 L975.1,1193.6 L956.0,1173.7 L937.1,1153.8 L918.4,1133.9 L899.8,1114.0 L881.5,1094.1 L863.3,1074.2 L845.4,1054.3 L827.6,1034.4 L810.0,1014.5 L792.5,994.6 L775.3,974.7 L758.2,954.8 L741.4,934.9 L724.6,915.1 L708.1,895.2 L691.8,875.3 L675.6,855.4 L659.6,835.5 L643.7,815.6 L628.1,795.7 L612.6,775.8 L597.2,755.9 L582.1,736.0 L567.1,716.1 L552.2,696.2 L537.5,676.3 L523.0,656.4 L508.7,636.5 L494.5,616.6 L480.5,596.7 L466.6,576.8 L452.9,556.9 L439.3,537.0 L425.9,517.1 L412.7,497.2 L399.6,477.3 L386.6,457.4 L373.8,437.5 L361.2,417.6 L348.7,397.7 L336.3,377.8 L324.1,357.9 L312.0,338.0 L300.1,318.1 L288.3,298.2 L276.7,278.3 L265.2,258.4 L253.9,238.5 L242.6,218.6 L231.6,198.7 L220.6,178.8 L209.8,158.9 L199.2,139.0M1776.5,1711.0 L1750.3,1691.1 L1724.4,1671.2 L1698.7,1651.3 L1673.2,1631.4 L1647.9,1611.5 L1622.9,1591.6 L1598.2,1571.7 L1573.6,1551.8 L1549.3,1531.9 L1525.2,1512.0 L1501.4,1492.1 L1477.8,1472.2 L1454.3,1452.3 L1431.2,1432.4 L1408.2,1412.5 L1385.4,1392.6 L1362.9,1372.7 L1340.6,1352.8 L1318.5,1332.9 L1296.6,1313.0 L1274.9,1293.1 L1253.5,1273.2 L1232.2,1253.3 L1211.2,1233.4 L1190.3,1213.5 L1169.7,1193.6 L1149.3,1173.7 L1129.0,1153.8 L1109.0,1133.9 L1089.1,1114.0 L1069.5,1094.1 L1050.1,1074.2 L1030.8,1054.3 L1011.8,1034.4 L992.9,1014.5 L974.2,994.6 L955.7,974.7 L937.4,954.8 L919.3,934.9 L901.4,915.1 L883.7,895.2 L866.1,875.3 L848.7,855.4 L831.6,835.5 L814.5,815.6 L797.7,795.7 L781.0,775.8 L764.6,755.9 L748.3,736.0 L732.1,716.1 L716.2,696.2 L700.4,676.3 L684.7,656.4 L669.3,636.5 L654.0,616.6 L638.9,596.7 L623.9,576.8 L609.1,556.9 L594.5,537.0 L580.0,517.1 L565.7,497.2 L551.6,477.3 L537.6,457.4 L523.8,437.5 L510.1,417.6 L496.6,397.7 L483.2,377.8 L470.0,357.9 L456.9,338.0 L444.0,318.1 L431.3,298.2 L418.7,278.3 L406.2,258.4 L393.9,238.5 L381.7,218.6 L369.7,198.7 L357.8,178.8 L346.1,158.9 L334.5,139.0M2009.0,1711.0 L1981.2,1691.1 L1953.7,1671.2 L1926.4,1651.3 L1899.4,1631.4 L1872.6,1611.5 L1846.1,1591.6 L1819.8,1571.7 L1793.7,1551.8 L1767.9,1531.9 L1742.3,1512.0 L1717.0,1492.1 L1691.9,1472.2 L1667.0,1452.3 L1642.4,1432.4 L1618.0,1412.5 L1593.8,1392.6 L1569.9,1372.7 L1546.1,1352.8 L1522.6,1332.9 L1499.3,1313.0 L1476.3,1293.1 L1453.5,1273.2 L1430.8,1253.3 L1408.4,1233.4 L1386.2,1213.5 L1364.3,1193.6 L1342.5,1173.7 L1320.9,1153.8 L1299.6,1133.9 L1278.5,1114.0 L1257.5,1094.1 L1236.8,1074.2 L1216.3,1054.3 L1195.9,1034.4 L1175.8,1014.5 L1155.9,994.6 L1136.2,974.7 L1116.7,954.8 L1097.3,934.9 L1078.2,915.1 L1059.2,895.2 L1040.5,875.3 L1021.9,855.4 L1003.5,835.5 L985.4,815.6 L967.4,795.7 L949.5,775.8 L931.9,755.9 L914.5,736.0 L897.2,716.1 L880.1,696.2 L863.2,676.3 L846.4,656.4 L829.9,636.5 L813.5,616.6 L797.3,596.7 L781.3,576.8 L765.4,556.9 L749.7,537.0 L734.2,517.1 L718.8,497.2 L703.6,477.3 L688.6,457.4 L673.7,437.5 L659.0,417.6 L644.5,397.7 L630.1,377.8 L615.9,357.9 L601.9,338.0 L588.0,318.1 L574.2,298.2 L560.6,278.3 L547.2,258.4 L533.9,238.5 L520.8,218.6 L507.8,198.7 L495.0,178.8 L482.3,158.9 L469.8,139.0M2241.5,1711.0 L2212.1,1691.1 L2183.0,1671.2 L2154.2,1651.3 L2125.6,1631.4 L2097.3,1611.5 L2069.2,1591.6 L2041.4,1571.7 L2013.8,1551.8 L1986.5,1531.9 L1959.4,1512.0 L1932.6,1492.1 L1906.1,1472.2 L1879.7,1452.3 L1853.6,1432.4 L1827.8,1412.5 L1802.2,1392.6 L1776.8,1372.7 L1751.7,1352.8 L1726.8,1332.9 L1702.1,1313.0 L1677.6,1293.1 L1653.4,1273.2 L1629.4,1253.3 L1605.7,1233.4 L1582.1,1213.5 L1558.8,1193.6 L1535.7,1173.7 L1512.9,1153.8 L1490.2,1133.9 L1467.8,1114.0 L1445.5,1094.1 L1423.5,1074.2 L1401.7,1054.3 L1380.1,1034.4 L1358.8,1014.5 L1337.6,994.6 L1316.6,974.7 L1295.9,954.8 L1275.3,934.9 L1255.0,915.1 L1234.8,895.2 L1214.8,875.3 L1195.1,855.4 L1175.5,835.5 L1156.2,815.6 L1137.0,795.7 L1118.0,775.8 L1099.2,755.9 L1080.7,736.0 L1062.2,716.1 L1044.0,696.2 L1026.0,676.3 L1008.2,656.4 L990.5,636.5 L973.0,616.6 L955.7,596.7 L938.6,576.8 L921.7,556.9 L904.9,537.0 L888.3,517.1 L871.9,497.2 L855.7,477.3 L839.6,457.4 L823.7,437.5 L808.0,417.6 L792.4,397.7 L777.0,377.8 L761.8,357.9 L746.8,338.0 L731.9,318.1 L717.2,298.2 L702.6,278.3 L688.2,258.4 L674.0,238.5 L659.9,218.6 L646.0,198.7 L632.2,178.8 L618.6,158.9 L605.1,139.0M2474.0,1711.0 L2443.0,1691.1 L2412.4,1671.2 L2382.0,1651.3 L2351.8,1631.4 L2322.0,1611.5 L2292.3,1591.6 L2263.0,1571.7 L2233.9,1551.8 L2205.1,1531.9 L2176.6,1512.0 L2148.3,1492.1 L2120.2,1472.2 L2092.4,1452.3 L2064.9,1432.4 L2037.6,1412.5 L2010.5,1392.6 L1983.7,1372.7 L1957.2,1352.8 L1930.9,1332.9 L1904.8,1313.0 L1879.0,1293.1 L1853.4,1273.2 L1828.0,1253.3 L1802.9,1233.4 L1778.0,1213.5 L1753.4,1193.6 L1729.0,1173.7 L1704.8,1153.8 L1680.8,1133.9 L1657.1,1114.0 L1633.5,1094.1 L1610.2,1074.2 L1587.2,1054.3 L1564.3,1034.4 L1541.7,1014.5 L1519.3,994.6 L1497.1,974.7 L1475.1,954.8 L1453.3,934.9 L1431.7,915.1 L1410.4,895.2 L1389.2,875.3 L1368.3,855.4 L1347.5,835.5 L1327.0,815.6 L1306.7,795.7 L1286.5,775.8 L1266.6,755.9 L1246.8,736.0 L1227.3,716.1 L1208.0,696.2 L1188.8,676.3 L1169.9,656.4 L1151.1,636.5 L1132.5,616.6 L1114.1,596.7 L1095.9,576.8 L1077.9,556.9 L1060.1,537.0 L1042.4,517.1 L1025.0,497.2 L1007.7,477.3 L990.6,457.4 L973.7,437.5 L956.9,417.6 L940.4,397.7 L924.0,377.8 L907.7,357.9 L891.7,338.0 L875.8,318.1 L860.1,298.2 L844.6,278.3 L829.2,258.4 L814.0,238.5 L799.0,218.6 L784.1,198.7 L769.4,178.8 L754.8,158.9 L740.5,139.0M2706.5,1711.0 L2674.0,1691.1 L2641.7,1671.2 L2609.7,1651.3 L2578.0,1631.4 L2546.6,1611.5 L2515.5,1591.6 L2484.6,1571.7 L2454.0,1551.8 L2423.7,1531.9 L2393.7,1512.0 L2363.9,1492.1 L2334.4,1472.2 L2305.1,1452.3 L2276.1,1432.4 L2247.4,1412.5 L2218.9,1392.6 L2190.7,1372.7 L2162.7,1352.8 L2135.0,1332.9 L2107.5,1313.0 L2080.3,1293.1 L2053.4,1273.2 L2026.6,1253.3 L2000.2,1233.4 L1973.9,1213.5 L1947.9,1193.6 L1922.2,1173.7 L1896.7,1153.8 L1871.4,1133.9 L1846.4,1114.0 L1821.6,1094.1 L1797.0,1074.2 L1772.6,1054.3 L1748.5,1034.4 L1724.6,1014.5 L1700.9,994.6 L1677.5,974.7 L1654.3,954.8 L1631.3,934.9 L1608.5,915.1 L1585.9,895.2 L1563.6,875.3 L1541.4,855.4 L1519.5,835.5 L1497.8,815.6 L1476.3,795.7 L1455.0,775.8 L1433.9,755.9 L1413.0,736.0 L1392.4,716.1 L1371.9,696.2 L1351.6,676.3 L1331.6,656.4 L1311.7,636.5 L1292.0,616.6 L1272.5,596.7 L1253.3,576.8 L1234.2,556.9 L1215.3,537.0 L1196.6,517.1 L1178.1,497.2 L1159.7,477.3 L1141.6,457.4 L1123.6,437.5 L1105.9,417.6 L1088.3,397.7 L1070.9,377.8 L1053.6,357.9 L1036.6,338.0 L1019.7,318.1 L1003.1,298.2 L986.5,278.3 L970.2,258.4 L954.0,238.5 L938.0,218.6 L922.2,198.7 L906.6,178.8 L891.1,158.9 L875.8,139.0" stroke="#90ee90" stroke-width="1.4"/>
<path d="M381.5,1711.0 L368.7,1694.1 L355.9,1677.2 L343.0,1660.4 L330.1,1643.5 L317.3,1626.6 L304.4,1609.7 L291.5,1592.8 L278.7,1575.9 L265.8,1559.1 L253.0,1542.2 L240.3,1525.3 L227.5,1508.4 L214.8,1491.5 L202.2,1474.7 L189.5,1457.8 L176.9,1440.9 L164.4,1424.0 L151.9,1407.1 L139.5,1390.3 L127.2,1373.4 L115.0,1356.5 L102.8,1339.6 L90.7,1322.7 L78.7,1305.8 L66.9,1289.0 L55.1,1272.1 L43.5,1255.2 L32.0,1238.3 L20.6,1221.4 L9.2,1204.6 L-2.0,1187.7 L-13.1,1170.8 L-24.1,1153.9 L-35.0,1137.0 L-45.6,1120.2 L-56.2,1103.3 L-66.6,1086.4 L-77.0,1069.5 L-87.2,1052.6 L-97.4,1035.7 L-107.4,1018.9 L-117.4,1002.0 L-127.3,985.1 L-137.1,968.2 L-146.8,951.3 L-156.3,934.5 L-165.8,917.6 L-175.2,900.7 L-184.5,883.8 L-193.6,866.9 L-202.5,850.1 L-211.3,833.2 L-220.0,816.3 L-228.7,799.4 L-237.2,782.5 L-245.7,765.6 L-254.0,748.8 L-262.3,731.9 L-270.4,715.0 L-278.5,698.1 L-286.5,681.2 L-294.4,664.4 L-302.2,647.5 L-309.9,630.6 L-317.5,613.7 L-325.0,596.8 L-332.5,580.0 L-339.8,563.1 L-347.1,546.2 L-354.3,529.3 L-361.4,512.4 L-368.4,495.5 L-375.3,478.7 L-382.2,461.8 L-388.9,444.9 L-395.6,428.0 L-402.2,411.1 L-408.7,394.3 L-415.1,377.4M614.0,1711.0 L602.2,1694.1 L590.3,1677.2 L578.3,1660.4 L566.2,1643.5 L554.0,1626.6 L541.8,1609.7 L529.5,1592.8 L517.2,1575.9 L504.8,1559.1 L492.4,1542.2 L480.0,1525.3 L467.5,1508.4 L455.1,1491.5 L442.3,1474.7 L429.4,1457.8 L416.6,1440.9 L403.7,1424.0 L390.7,1407.1 L377.8,1390.3 L364.9,1373.4 L352.0,1356.5 L339.1,1339.6 L326.3,1322.7 L313.5,1305.8 L300.9,1289.0 L288.2,1272.1 L275.7,1255.2 L263.2,1238.3 L250.8,1221.4 L238.5,1204.6 L226.3,1187.7 L214.1,1170.8 L201.9,1153.9 L189.8,1137.0 L177.8,1120.2 L165.8,1103.3 L154.0,1086.4 L142.4,1069.5 L130.8,1052.6 L119.3,1035.7 L107.9,1018.9 L96.6,1002.0 L85.5,985.1 L74.4,968.2 L63.4,951.3 L52.6,934.5 L42.0,917.6 L31.4,900.7 L21.0,883.8 L10.7,866.9 L0.5,850.1 L-9.7,833.2 L-19.7,816.3 L-29.6,799.4 L-39.5,782.5 L-49.2,765.6 L-58.9,748.8 L-68.4,731.9 L-77.9,715.0 L-87.3,698.1 L-96.5,681.2 L-105.5,664.4 L-114.4,647.5 L-123.2,630.6 L-131.9,613.7 L-140.5,596.8 L-149.0,580.0 L-157.5,563.1 L-165.8,546.2 L-174.0,529.3 L-182.2,512.4 L-190.2,495.5 L-198.2,478.7 L-206.0,461.8 L-213.8,444.9 L-221.5,428.0 L-229.1,411.1 L-236.6,394.3 L-244.0,377.4M846.5,1711.0 L837.6,1694.1 L828.6,1677.2 L819.4,1660.4 L810.0,1643.5 L800.4,1626.6 L790.8,1609.7 L781.1,1592.8 L771.2,1575.9 L761.2,1559.1 L751.0,1542.2 L740.8,1525.3 L730.4,1508.4 L719.9,1491.5 L709.3,1474.7 L698.5,1457.8 L687.5,1440.9 L676.3,1424.0 L665.0,1407.1 L653.6,1390.3 L642.1,1373.4 L630.4,1356.5 L618.5,1339.6 L606.6,1322.7 L594.7,1305.8 L582.6,1289.0 L570.5,1272.1 L558.2,1255.2 L545.5,1238.3 L532.7,1221.4 L520.0,1204.6 L507.2,1187.7 L494.5,1170.8 L481.7,1153.9 L469.0,1137.0 L456.3,1120.2 L443.6,1103.3 L430.9,1086.4 L418.3,1069.5 L405.8,1052.6 L393.3,1035.7 L380.9,1018.9 L368.5,1002.0 L356.2,985.1 L343.9,968.2 L331.8,951.3 L319.7,934.5 L307.6,917.6 L295.5,900.7 L283.5,883.8 L271.6,866.9 L259.9,850.1 L248.2,833.2 L236.7,816.3 L225.2,799.4 L213.9,782.5 L202.6,765.6 L191.5,748.8 L180.4,731.9 L169.5,715.0 L158.7,698.1 L148.1,681.2 L137.6,664.4 L127.2,647.5 L116.8,630.6 L106.6,613.7 L96.5,596.8 L86.5,580.0 L76.6,563.1 L66.7,546.2 L57.0,529.3 L47.3,512.4 L37.8,495.5 L28.3,478.7 L19.0,461.8 L9.8,444.9 L0.8,428.0 L-8.1,411.1 L-16.9,394.3 L-25.6,377.4M924.0,1711.0 L916.5,1694.1 L908.8,1677.2 L901.0,1660.4 L893.0,1643.5 L884.8,1626.6 L876.4,1609.7 L867.8,1592.8 L859.1,1575.9 L850.1,1559.1 L841.1,1542.2 L832.1,1525.3 L823.0,1508.4 L813.7,1491.5 L804.3,1474.7 L794.8,1457.8 L785.1,1440.9 L775.3,1424.0 L765.4,1407.1 L755.3,1390.3 L745.2,1373.4 L734.5,1356.5 L723.7,1339.6 L712.7,1322.7 L701.6,1305.8 L690.3,1289.0 L679.0,1272.1 L667.5,1255.2 L655.9,1238.3 L644.2,1221.4 L632.4,1204.6 L620.6,1187.7 L608.6,1170.8 L596.3,1153.9 L583.7,1137.0 L571.2,1120.2 L558.5,1103.3 L545.9,1086.4 L533.3,1069.5 L520.6,1052.6 L508.0,1035.7 L495.4,1018.9 L482.8,1002.0 L470.3,985.1 L457.8,968.2 L445.3,951.3 L432.9,934.5 L420.5,917.6 L408.2,900.7 L396.0,883.8 L383.8,866.9 L371.7,850.1 L359.6,833.2 L347.5,816.3 L335.5,799.4 L323.6,782.5 L311.8,765.6 L300.0,748.8 L288.4,731.9 L276.9,715.0 L265.5,698.1 L254.2,681.2 L243.0,664.4 L231.9,647.5 L220.9,630.6 L210.0,613.7 L199.3,596.8 L188.7,580.0 L178.2,563.1 L167.8,546.2 L157.5,529.3 L147.4,512.4 L137.3,495.5 L127.3,478.7 L117.4,461.8 L107.6,444.9 L97.9,428.0 L88.2,411.1 L78.7,394.3 L69.3,377.4M1001.5,1711.0 L995.3,1694.1 L989.0,1677.2 L982.6,1660.4 L976.0,1643.5 L969.3,1626.6 L962.4,1609.7 L955.4,1592.8 L948.2,1575.9 L940.8,1559.1 L933.3,1542.2 L925.6,1525.3 L917.7,1508.4 L909.6,1491.5 L901.4,1474.7 L893.0,1457.8 L884.6,1440.9 L876.2,1424.0 L867.8,1407.1 L859.2,1390.3 L850.4,1373.4 L841.6,1356.5 L832.5,1339.6 L823.3,1322.7 L813.9,1305.8 L804.4,1289.0 L794.7,1272.1 L784.6,1255.2 L774.2,1238.3 L763.7,1221.4 L753.0,1204.6 L742.2,1187.7 L731.2,1170.8 L720.1,1153.9 L708.9,1137.0 L697.6,1120.2 L686.1,1103.3 L674.6,1086.4 L662.9,1069.5 L651.1,1052.6 L638.8,1035.7 L626.4,1018.9 L614.0,1002.0 L601.6,985.1 L589.1,968.2 L576.6,951.3 L564.2,934.5 L551.7,917.6 L539.2,900.7 L526.7,883.8 L514.3,866.9 L501.9,850.1 L489.5,833.2 L477.2,816.3 L464.9,799.4 L452.7,782.5 L440.5,765.6 L428.4,748.8 L416.4,731.9 L404.3,715.0 L392.3,698.1 L380.4,681.2 L368.5,664.4 L356.7,647.5 L345.1,630.6 L333.5,613.7 L322.1,596.8 L310.7,580.0 L299.5,563.1 L288.3,546.2 L277.3,529.3 L266.3,512.4 L255.5,495.5 L244.9,478.7 L234.3,461.8 L223.9,444.9 L213.6,428.0 L203.3,411.1 L193.2,394.3 L183.2,377.4M1079.0,1711.0 L1074.1,1694.1 L1069.1,1677.2 L1064.0,1660.4 L1058.8,1643.5 L1053.5,1626.6 L1048.1,1609.7 L1042.5,1592.8 L1036.9,1575.9 L1031.0,1559.1 L1025.1,1542.2 L1019.0,1525.3 L1012.8,1508.4 L1006.5,1491.5 L1000.0,1474.7 L993.3,1457.8 L986.5,1440.9 L979.6,1424.0 L972.4,1407.1 L965.1,1390.3 L957.7,1373.4 L950.2,1356.5 L942.5,1339.6 L935.0,1322.7 L927.5,1305.8 L919.8,1289.0 L911.9,1272.1 L903.9,1255.2 L895.7,1238.3 L887.2,1221.4 L878.7,1204.6 L869.9,1187.7 L861.0,1170.8 L851.8,1153.9 L842.4,1137.0 L832.6,1120.2 L822.7,1103.3 L812.6,1086.4 L802.3,1069.5 L791.9,1052.6 L781.3,1035.7 L770.6,1018.9 L759.7,1002.0 L748.7,985.1 L737.5,968.2 L726.3,951.3 L715.0,934.5 L703.1,917.6 L691.1,900.7 L679.0,883.8 L666.8,866.9 L654.6,850.1 L642.3,833.2 L630.0,816.3 L617.7,799.4 L605.4,782.5 L593.1,765.6 L580.8,748.8 L568.5,731.9 L556.2,715.0 L543.9,698.1 L531.7,681.2 L519.5,664.4 L507.4,647.5 L495.3,630.6 L483.3,613.7 L471.3,596.8 L459.3,580.0 L447.3,563.1 L435.4,546.2 L423.6,529.3 L411.9,512.4 L400.4,495.5 L388.9,478.7 L377.5,461.8 L366.2,444.9 L355.0,428.0 L343.8,411.1 L332.8,394.3 L321.9,377.4M1156.5,1711.0 L1152.7,1694.1 L1148.9,1677.2 L1145.0,1660.4 L1141.1,1643.5 L1137.0,1626.6 L1132.9,1609.7 L1128.8,1592.8 L1124.5,1575.9 L1120.1,1559.1 L1115.6,1542.2 L1111.1,1525.3 L1106.4,1508.4 L1101.7,1491.5 L1096.8,1474.7 L1091.8,1457.8 L1086.7,1440.9 L1081.5,1424.0 L1076.2,1407.1 L1070.7,1390.3 L1065.2,1373.4 L1059.6,1356.5 L1053.8,1339.6 L1048.0,1322.7 L1042.0,1305.8 L1035.8,1289.0 L1029.6,1272.1 L1023.1,1255.2 L1016.6,1238.3 L1009.8,1221.4 L1003.0,1204.6 L996.3,1187.7 L989.6,1170.8 L982.7,1153.9 L975.6,1137.0 L968.4,1120.2 L961.0,1103.3 L953.4,1086.4 L945.6,1069.5 L937.7,1052.6 L929.5,1035.7 L921.2,1018.9 L912.7,1002.0 L903.7,985.1 L894.6,968.2 L885.3,951.3 L875.8,934.5 L866.1,917.6 L856.2,900.7 L846.2,883.8 L836.0,866.9 L825.6,850.1 L815.1,833.2 L804.4,816.3 L793.6,799.4 L782.7,782.5 L771.3,765.6 L759.6,748.8 L747.9,731.9 L736.1,715.0 L724.2,698.1 L712.2,681.2 L700.2,664.4 L688.1,647.5 L676.0,630.6 L663.9,613.7 L651.8,596.8 L639.6,580.0 L627.5,563.1 L615.4,546.2 L603.3,529.3 L591.2,512.4 L579.2,495.5 L567.2,478.7 L555.2,461.8 L543.4,444.9 L531.4,428.0 L519.5,411.1 L507.6,394.3 L495.8,377.4M1311.5,1711.0 L1309.5,1694.1 L1307.4,1677.2 L1305.4,1660.4 L1303.3,1643.5 L1301.2,1626.6 L1299.1,1609.7 L1297.0,1592.8 L1294.8,1575.9 L1292.6,1559.1 L1290.5,1542.2 L1288.2,1525.3 L1286.0,1508.4 L1283.7,1491.5 L1281.4,1474.7 L1279.1,1457.8 L1276.7,1440.9 L1274.3,1424.0 L1271.9,1407.1 L1269.5,1390.3 L1267.0,1373.4 L1264.4,1356.5 L1261.9,1339.6 L1259.3,1322.7 L1256.5,1305.8 L1253.7,1289.0 L1250.9,1272.1 L1248.0,1255.2 L1245.1,1238.3 L1242.1,1221.4 L1239.0,1204.6 L1235.9,1187.7 L1232.7,1170.8 L1229.5,1153.9 L1226.2,1137.0 L1222.8,1120.2 L1219.4,1103.3 L1215.9,1086.4 L1212.3,1069.5 L1208.6,1052.6 L1204.9,1035.7 L1201.1,1018.9 L1197.2,1002.0 L1193.2,985.1 L1189.1,968.2 L1184.9,951.3 L1180.6,934.5 L1176.2,917.6 L1171.7,900.7 L1167.1,883.8 L1162.3,866.9 L1157.6,850.1 L1153.0,833.2 L1148.3,816.3 L1143.5,799.4 L1138.5,782.5 L1133.4,765.6 L1128.1,748.8 L1122.7,731.9 L1117.1,715.0 L1111.4,698.1 L1105.5,681.2 L1099.4,664.4 L1093.2,647.5 L1086.8,630.6 L1080.1,613.7 L1073.0,596.8 L1065.8,580.0 L1058.5,563.1 L1050.9,546.2 L1043.1,529.3 L1035.1,512.4 L1026.9,495.5 L1018.6,478.7 L1010.0,461.8 L1001.2,444.9 L992.3,428.0 L983.1,411.1 L973.8,394.3 L964.3,377.4M1389.0,1711.0 L1387.6,1694.1 L1386.2,1677.2 L1384.8,1660.4 L1383.4,1643.5 L1382.0,1626.6 L1380.6,1609.7 L1379.2,1592.8 L1377.8,1575.9 L1376.4,1559.1 L1375.0,1542.2 L1373.5,1525.3 L1372.1,1508.4 L1370.6,1491.5 L1369.2,1474.7 L1367.7,1457.8 L1366.2,1440.9 L1364.8,1424.0 L1363.3,1407.1 L1361.7,1390.3 L1360.2,1373.4 L1358.7,1356.5 L1357.1,1339.6 L1355.6,1322.7 L1354.0,1305.8 L1352.4,1289.0 L1350.8,1272.1 L1349.1,1255.2 L1347.5,1238.3 L1345.8,1221.4 L1344.1,1204.6 L1342.3,1187.7 L1340.6,1170.8 L1338.8,1153.9 L1337.0,1137.0 L1335.0,1120.2 L1333.1,1103.3 L1331.1,1086.4 L1329.1,1069.5 L1327.0,1052.6 L1324.9,1035.7 L1322.8,1018.9 L1320.6,1002.0 L1318.4,985.1 L1316.1,968.2 L1313.8,951.3 L1311.5,934.5 L1309.1,917.6 L1306.7,900.7 L1304.2,883.8 L1301.6,866.9 L1299.0,850.1 L1296.4,833.2 L1293.6,816.3 L1290.9,799.4 L1288.0,782.5 L1285.1,765.6 L1282.1,748.8 L1279.1,731.9 L1275.9,715.0 L1272.7,698.1 L1269.4,681.2 L1266.0,664.4 L1262.5,647.5 L1259.0,630.6 L1255.7,613.7 L1252.3,596.8 L1248.8,580.0 L1245.2,563.1 L1241.5,546.2 L1237.6,529.3 L1233.7,512.4 L1229.6,495.5 L1225.4,478.7 L1221.1,461.8 L1216.6,444.9 L1212.0,428.0 L1207.2,411.1 L1202.3,394.3 L1197.2,377.4M1466.5,1711.0 L1465.6,1694.1 L1464.7,1677.2 L1463.8,1660.4 L1463.0,1643.5 L1462.1,1626.6 L1461.2,1609.7 L1460.4,1592.8 L1459.5,1575.9 L1458.7,1559.1 L1457.8,1542.2 L1457.0,1525.3 L1456.2,1508.4 L1455.3,1491.5 L1454.5,1474.7 L1453.7,1457.8 L1452.9,1440.9 L1452.0,1424.0 L1451.2,1407.1 L1450.4,1390.3 L1449.6,1373.4 L1448.8,1356.5 L1448.0,1339.6 L1447.2,1322.7 L1446.3,1305.8 L1445.5,1289.0 L1444.7,1272.1 L1443.9,1255.2 L1443.1,1238.3 L1442.2,1221.4 L1441.4,1204.6 L1440.6,1187.7 L1439.7,1170.8 L1438.9,1153.9 L1438.0,1137.0 L1437.2,1120.2 L1436.3,1103.3 L1435.4,1086.4 L1434.6,1069.5 L1433.7,1052.6 L1432.8,1035.7 L1431.9,1018.9 L1430.9,1002.0 L1430.0,985.1 L1429.1,968.2 L1428.1,951.3 L1427.1,934.5 L1426.0,917.6 L1424.9,900.7 L1423.8,883.8 L1422.7,866.9 L1421.5,850.1 L1420.4,833.2 L1419.2,816.3 L1418.0,799.4 L1416.8,782.5 L1415.5,765.6 L1414.2,748.8 L1412.9,731.9 L1411.6,715.0 L1410.2,698.1 L1408.9,681.2 L1407.4,664.4 L1406.0,647.5 L1404.5,630.6 L1403.0,613.7 L1401.5,596.8 L1399.9,580.0 L1398.3,563.1 L1396.6,546.2 L1394.9,529.3 L1393.1,512.4 L1391.3,495.5 L1389.5,478.7 L1387.6,461.8 L1385.6,444.9 L1383.6,428.0 L1381.5,411.1 L1379.4,394.3 L1377.2,377.4" stroke="#707070" stroke-width="1.3"/>
<path d="M307.3,1711.0 L316.3,1677.2 L325.3,1643.5 L334.4,1609.7 L343.5,1575.9 L352.6,1542.1 L361.7,1508.4 L370.9,1474.6 L380.1,1440.8 L389.3,1407.0 L398.5,1373.3 L407.7,1339.5 L417.0,1305.7 L426.3,1271.9 L435.6,1238.2 L445.0,1204.4 L454.4,1170.6 L463.7,1136.8 L473.2,1103.1 L482.6,1069.3 L492.1,1035.5 L501.5,1001.7 L511.1,968.0 L520.6,934.2 L530.1,900.4 L539.7,866.6 L549.3,832.9 L558.9,799.1 L568.6,765.3 L578.2,731.5 L587.9,697.8 L597.6,664.0 L607.3,630.2 L617.1,596.4 L626.8,562.7 L636.6,528.9 L646.4,495.1 L656.2,461.3 L666.1,427.6 L676.0,393.8M419.8,1711.0 L428.4,1677.2 L436.9,1643.5 L445.6,1609.7 L454.2,1575.9 L462.9,1542.1 L471.6,1508.4 L480.3,1474.6 L489.0,1440.8 L497.8,1407.0 L506.6,1373.3 L515.4,1339.5 L524.3,1305.7 L533.2,1271.9 L542.1,1238.2 L551.0,1204.4 L560.0,1170.6 L568.9,1136.8 L577.9,1103.1 L587.0,1069.3 L596.0,1035.5 L605.1,1001.7 L614.2,968.0 L623.4,934.2 L632.5,900.4 L641.7,866.6 L650.9,832.9 L660.1,799.1 L669.4,765.3 L678.7,731.5 L688.0,697.8 L697.3,664.0 L706.6,630.2 L716.0,596.4 L725.4,562.7 L734.8,528.9 L744.2,495.1 L753.7,461.3 L763.2,427.6 L772.7,393.8M540.4,1711.0 L548.4,1677.2 L556.5,1643.5 L564.6,1609.7 L572.8,1575.9 L580.9,1542.1 L589.2,1508.4 L597.4,1474.6 L605.7,1440.8 L614.0,1407.0 L622.3,1373.3 L630.6,1339.5 L639.0,1305.7 L647.4,1271.9 L655.9,1238.2 L664.4,1204.4 L672.9,1170.6 L681.4,1136.8 L689.9,1103.1 L698.5,1069.3 L707.1,1035.5 L715.8,1001.7 L724.4,968.0 L733.1,934.2 L741.9,900.4 L750.6,866.6 L759.4,832.9 L768.2,799.1 L777.0,765.3 L785.9,731.5 L794.7,697.8 L803.6,664.0 L812.6,630.2 L821.5,596.4 L830.5,562.7 L839.5,528.9 L848.6,495.1 L857.6,461.3 L866.7,427.6 L875.8,393.8M581.0,1711.0 L588.9,1677.2 L596.8,1643.5 L604.8,1609.7 L612.7,1575.9 L620.7,1542.1 L628.8,1508.4 L636.9,1474.6 L645.0,1440.8 L653.1,1407.0 L661.3,1373.3 L669.5,1339.5 L677.7,1305.7 L685.9,1271.9 L694.2,1238.2 L702.5,1204.4 L710.9,1170.6 L719.2,1136.8 L727.6,1103.1 L736.1,1069.3 L744.5,1035.5 L753.0,1001.7 L761.5,968.0 L770.1,934.2 L778.7,900.4 L787.3,866.6 L795.9,832.9 L804.5,799.1 L813.2,765.3 L821.9,731.5 L830.7,697.8 L839.4,664.0 L848.2,630.2 L857.0,596.4 L865.9,562.7 L874.7,528.9 L883.6,495.1 L892.5,461.3 L901.5,427.6 L910.5,393.8M713.5,1711.0 L720.8,1677.2 L728.1,1643.5 L735.5,1609.7 L742.9,1575.9 L750.4,1542.1 L757.9,1508.4 L765.4,1474.6 L772.9,1440.8 L780.5,1407.0 L788.1,1373.3 L795.8,1339.5 L803.5,1305.7 L811.2,1271.9 L819.0,1238.2 L826.7,1204.4 L834.6,1170.6 L842.4,1136.8 L850.3,1103.1 L858.2,1069.3 L866.2,1035.5 L874.1,1001.7 L882.1,968.0 L890.2,934.2 L898.3,900.4 L906.4,866.6 L914.5,832.9 L922.7,799.1 L930.9,765.3 L939.1,731.5 L947.3,697.8 L955.6,664.0 L963.9,630.2 L972.3,596.4 L980.7,562.7 L989.1,528.9 L997.5,495.1 L1006.0,461.3 L1014.4,427.6 L1023.0,393.8M795.6,1711.0 L802.5,1677.2 L809.5,1643.5 L816.5,1609.7 L823.6,1575.9 L830.7,1542.1 L837.8,1508.4 L845.0,1474.6 L852.2,1440.8 L859.4,1407.0 L866.7,1373.3 L874.0,1339.5 L881.3,1305.7 L888.7,1271.9 L896.1,1238.2 L903.6,1204.4 L911.1,1170.6 L918.6,1136.8 L926.1,1103.1 L933.7,1069.3 L941.3,1035.5 L949.0,1001.7 L956.7,968.0 L964.4,934.2 L972.2,900.4 L980.0,866.6 L987.8,832.9 L995.6,799.1 L1003.5,765.3 L1011.4,731.5 L1019.4,697.8 L1027.4,664.0 L1035.4,630.2 L1043.4,596.4 L1051.5,562.7 L1059.6,528.9 L1067.7,495.1 L1075.9,461.3 L1084.1,427.6 L1092.3,393.8M856.0,1711.0 L862.7,1677.2 L869.4,1643.5 L876.1,1609.7 L882.9,1575.9 L889.7,1542.1 L896.6,1508.4 L903.5,1474.6 L910.4,1440.8 L917.4,1407.0 L924.4,1373.3 L931.5,1339.5 L938.6,1305.7 L945.7,1271.9 L952.8,1238.2 L960.0,1204.4 L967.3,1170.6 L974.6,1136.8 L981.9,1103.1 L989.2,1069.3 L996.6,1035.5 L1004.0,1001.7 L1011.5,968.0 L1018.9,934.2 L1026.5,900.4 L1034.0,866.6 L1041.6,832.9 L1049.2,799.1 L1056.9,765.3 L1064.6,731.5 L1072.3,697.8 L1080.0,664.0 L1087.8,630.2 L1095.7,596.4 L1103.5,562.7 L1111.4,528.9 L1119.3,495.1 L1127.3,461.3 L1135.2,427.6 L1143.3,393.8M944.4,1711.0 L950.7,1677.2 L956.9,1643.5 L963.3,1609.7 L969.7,1575.9 L976.1,1542.1 L982.5,1508.4 L989.0,1474.6 L995.6,1440.8 L1002.2,1407.0 L1008.8,1373.3 L1015.5,1339.5 L1022.2,1305.7 L1028.9,1271.9 L1035.7,1238.2 L1042.5,1204.4 L1049.4,1170.6 L1056.3,1136.8 L1063.2,1103.1 L1070.2,1069.3 L1077.2,1035.5 L1084.3,1001.7 L1091.4,968.0 L1098.5,934.2 L1105.7,900.4 L1112.9,866.6 L1120.1,832.9 L1127.4,799.1 L1134.7,765.3 L1142.1,731.5 L1149.5,697.8 L1156.9,664.0 L1164.3,630.2 L1171.8,596.4 L1179.3,562.7 L1186.9,528.9 L1194.5,495.1 L1202.1,461.3 L1209.8,427.6 L1217.5,393.8M1009.4,1711.0 L1015.4,1677.2 L1021.4,1643.5 L1027.4,1609.7 L1033.5,1575.9 L1039.6,1542.1 L1045.8,1508.4 L1052.0,1474.6 L1058.2,1440.8 L1064.5,1407.0 L1070.8,1373.3 L1077.2,1339.5 L1083.6,1305.7 L1090.1,1271.9 L1096.6,1238.2 L1103.1,1204.4 L1109.7,1170.6 L1116.4,1136.8 L1123.0,1103.1 L1129.7,1069.3 L1136.5,1035.5 L1143.3,1001.7 L1150.1,968.0 L1157.0,934.2 L1163.9,900.4 L1170.8,866.6 L1177.8,832.9 L1184.8,799.1 L1191.9,765.3 L1199.0,731.5 L1206.1,697.8 L1213.3,664.0 L1220.5,630.2 L1227.7,596.4 L1235.0,562.7 L1242.3,528.9 L1249.6,495.1 L1257.0,461.3 L1264.5,427.6 L1271.9,393.8M1061.2,1711.0 L1066.9,1677.2 L1072.7,1643.5 L1078.5,1609.7 L1084.3,1575.9 L1090.2,1542.1 L1096.1,1508.4 L1102.1,1474.6 L1108.1,1440.8 L1114.1,1407.0 L1120.2,1373.3 L1126.4,1339.5 L1132.6,1305.7 L1138.8,1271.9 L1145.1,1238.2 L1151.4,1204.4 L1157.7,1170.6 L1164.1,1136.8 L1170.6,1103.1 L1177.1,1069.3 L1183.6,1035.5 L1190.2,1001.7 L1196.8,968.0 L1203.4,934.2 L1210.1,900.4 L1216.9,866.6 L1223.6,832.9 L1230.4,799.1 L1237.3,765.3 L1244.2,731.5 L1251.1,697.8 L1258.1,664.0 L1265.1,630.2 L1272.1,596.4 L1279.2,562.7 L1286.3,528.9 L1293.5,495.1 L1300.7,461.3 L1307.9,427.6 L1315.2,393.8M1141.6,1711.0 L1146.9,1677.2 L1152.2,1643.5 L1157.6,1609.7 L1163.1,1575.9 L1168.6,1542.1 L1174.1,1508.4 L1179.7,1474.6 L1185.4,1440.8 L1191.0,1407.0 L1196.8,1373.3 L1202.5,1339.5 L1208.4,1305.7 L1214.2,1271.9 L1220.2,1238.2 L1226.1,1204.4 L1232.1,1170.6 L1238.2,1136.8 L1244.3,1103.1 L1250.4,1069.3 L1256.6,1035.5 L1262.8,1001.7 L1269.1,968.0 L1275.4,934.2 L1281.8,900.4 L1288.2,866.6 L1294.6,832.9 L1301.1,799.1 L1307.6,765.3 L1314.2,731.5 L1320.8,697.8 L1327.4,664.0 L1334.1,630.2 L1340.9,596.4 L1347.6,562.7 L1354.4,528.9 L1361.3,495.1 L1368.2,461.3 L1375.1,427.6 L1382.0,393.8M1203.4,1711.0 L1208.4,1677.2 L1213.4,1643.5 L1218.5,1609.7 L1223.6,1575.9 L1228.8,1542.1 L1234.1,1508.4 L1239.4,1474.6 L1244.7,1440.8 L1250.1,1407.0 L1255.6,1373.3 L1261.0,1339.5 L1266.6,1305.7 L1272.2,1271.9 L1277.8,1238.2 L1283.5,1204.4 L1289.2,1170.6 L1295.0,1136.8 L1300.8,1103.1 L1306.7,1069.3 L1312.6,1035.5 L1318.6,1001.7 L1324.6,968.0 L1330.6,934.2 L1336.7,900.4 L1342.9,866.6 L1349.1,832.9 L1355.3,799.1 L1361.6,765.3 L1367.9,731.5 L1374.2,697.8 L1380.6,664.0 L1387.1,630.2 L1393.6,596.4 L1400.1,562.7 L1406.6,528.9 L1413.2,495.1 L1419.9,461.3 L1426.6,427.6 L1433.3,393.8M1275.9,1711.0 L1280.5,1677.2 L1285.2,1643.5 L1289.9,1609.7 L1294.7,1575.9 L1299.5,1542.1 L1304.4,1508.4 L1309.3,1474.6 L1314.3,1440.8 L1319.4,1407.0 L1324.5,1373.3 L1329.6,1339.5 L1334.8,1305.7 L1340.1,1271.9 L1345.4,1238.2 L1350.7,1204.4 L1356.1,1170.6 L1361.6,1136.8 L1367.1,1103.1 L1372.6,1069.3 L1378.2,1035.5 L1383.9,1001.7 L1389.6,968.0 L1395.3,934.2 L1401.1,900.4 L1406.9,866.6 L1412.8,832.9 L1418.7,799.1 L1424.7,765.3 L1430.7,731.5 L1436.8,697.8 L1442.9,664.0 L1449.0,630.2 L1455.2,596.4 L1461.5,562.7 L1467.7,528.9 L1474.1,495.1 L1480.4,461.3 L1486.8,427.6 L1493.3,393.8M1350.1,1711.0 L1354.3,1677.2 L1358.6,1643.5 L1363.0,1609.7 L1367.4,1575.9 L1371.9,1542.1 L1376.4,1508.4 L1381.0,1474.6 L1385.6,1440.8 L1390.3,1407.0 L1395.0,1373.3 L1399.8,1339.5 L1404.7,1305.7 L1409.6,1271.9 L1414.5,1238.2 L1419.5,1204.4 L1424.6,1170.6 L1429.7,1136.8 L1434.9,1103.1 L1440.1,1069.3 L1445.4,1035.5 L1450.7,1001.7 L1456.0,968.0 L1461.5,934.2 L1466.9,900.4 L1472.4,866.6 L1478.0,832.9 L1483.6,799.1 L1489.3,765.3 L1495.0,731.5 L1500.7,697.8 L1506.5,664.0 L1512.4,630.2 L1518.2,596.4 L1524.2,562.7 L1530.2,528.9 L1536.2,495.1 L1542.3,461.3 L1548.4,427.6 L1554.5,393.8" stroke="#ee82ee" stroke-width="1.4" stroke-dasharray="5.1 2.2"/>
</g>
<rect x="149.0" y="139.0" width="1240.0" height="1572.0" fill="none" stroke="#000" stroke-width="2.2"/>
<path d="M139.1,139.0H149.0M139.1,377.0H149.0M139.1,562.0H149.0M139.1,713.0H149.0M139.1,841.0H149.0M139.1,952.0H149.0M139.1,1049.0H149.0M139.1,1137.0H149.0M139.1,1216.0H149.0M139.1,1288.0H149.0M139.1,1354.0H149.0M139.1,1416.0H149.0M139.1,1473.0H149.0M139.1,1526.0H149.0M139.1,1576.0H149.0M139.1,1624.0H149.0M139.1,1669.0H149.0M139.1,1711.0H149.0M149.0,1711.0V1720.9M227.0,1711.0V1720.9M304.0,1711.0V1720.9M382.0,1711.0V1720.9M459.0,1711.0V1720.9M537.0,1711.0V1720.9M614.0,1711.0V1720.9M692.0,1711.0V1720.9M769.0,1711.0V1720.9M847.0,1711.0V1720.9M924.0,1711.0V1720.9M1002.0,1711.0V1720.9M1079.0,1711.0V1720.9M1157.0,1711.0V1720.9M1234.0,1711.0V1720.9M1312.0,1711.0V1720.9M1389.0,1711.0V1720.9" stroke="#000" stroke-width="2.2" fill="none"/>
<g font-size="27.78">
<text x="129.9" y="150.1" text-anchor="end">150</text>
<text x="129.9" y="388.5" text-anchor="end">200</text>
<text x="129.9" y="573.4" text-anchor="end">250</text>
<text x="129.9" y="724.5" text-anchor="end">300</text>
<text x="129.9" y="852.2" text-anchor="end">350</text>
<text x="129.9" y="962.8" text-anchor="end">400</text>
<text x="129.9" y="1060.4" text-anchor="end">450</text>
<text x="129.9" y="1147.7" text-anchor="end">500</text>
<text x="129.9" y="1226.7" text-anchor="end">550</text>
<text x="129.9" y="1298.8" text-anchor="end">600</text>
<text x="129.9" y="1365.1" text-anchor="end">650</text>
<text x="129.9" y="1426.6" text-anchor="end">700</text>
<text x="129.9" y="1483.7" text-anchor="end">750</text>
<text x="129.9" y="1537.2" text-anchor="end">800</text>
<text x="129.9" y="1587.4" text-anchor="end">850</text>
<text x="129.9" y="1634.8" text-anchor="end">900</text>
<text x="129.9" y="1679.6" text-anchor="end">950</text>
<text x="129.9" y="1723.0" text-anchor="end">1000</text>
<text x="150.0" y="1752.9" text-anchor="middle">−45</text>
<text x="227.5" y="1752.9" text-anchor="middle">−40</text>
<text x="305.0" y="1752.9" text-anchor="middle">−35</text>
<text x="382.5" y="1752.9" text-anchor="middle">−30</text>
<text x="460.0" y="1752.9" text-anchor="middle">−25</text>
<text x="537.5" y="1752.9" text-anchor="middle">−20</text>
<text x="615.0" y="1752.9" text-anchor="middle">−15</text>
<text x="692.5" y="1752.9" text-anchor="middle">−10</text>
<text x="770.0" y="1752.9" text-anchor="middle">−5</text>
<text x="847.5" y="1752.9" text-anchor="middle">0</text>
<text x="925.0" y="1752.9" text-anchor="middle">5</text>
<text x="1002.5" y="1752.9" text-anchor="middle">10</text>
<text x="1080.0" y="1752.9" text-anchor="middle">15</text>
<text x="1157.5" y="1752.9" text-anchor="middle">20</text>
<text x="1235.0" y="1752.9" text-anchor="middle">25</text>
<text x="1312.5" y="1752.9" text-anchor="middle">30</text>
<text x="1390.0" y="1752.9" text-anchor="middle">35</text>
<text x="646.20" y="1793.60" font-size="27.78" letter-spacing="0.375" >Temperatur in</text>
<text x="858.00" y="1788.20" font-size="19.4" letter-spacing="0.000" >°</text>
<text x="873.40" y="1793.60" font-size="27.78" letter-spacing="0.000" >C</text>
<text transform="translate(40.60,1014.40) rotate(-90)" font-size="27.78" letter-spacing="0.091">Druck in hPa</text>
<text x="261.20" y="1853.80" font-size="27.78" letter-spacing="0.473" >HATPRO 00:03 UTC</text>
<text x="677.80" y="1853.80" font-size="27.78" letter-spacing="0.380" >HATPRO 14:50 UTC</text>
<text x="1095.60" y="1853.80" font-size="27.78" letter-spacing="0.256" >Radiosonde 00 UTC</text>
</g>
<text x="485.40" y="45.80" font-size="33.33" letter-spacing="0.167" >Temps München vom 29.08.2024</text>
<text x="354.60" y="83.70" font-size="33.33" letter-spacing="0.036" >mit Radiosondendaten aus Oberschleissheim und</text>
<text x="453.80" y="121.50" font-size="33.33" letter-spacing="0.042" >Mikrowellenradiometerdaten vom MIM</text>
<rect x="160.5" y="1804.5" width="1218.7" height="83" rx="4.5" fill="none" stroke="#d6d6d6" stroke-width="2.8"/>
<path d="M171,1835H240M171,1856H240" stroke="#ff0000" stroke-width="4.2" fill="none"/>
<path d="M588,1835H657M588,1856H657" stroke="#0000ff" stroke-width="4.2" fill="none"/>
<path d="M1004,1835H1073M1004,1856H1073" stroke="#000" stroke-width="4.2" fill="none"/>
</svg>
</body></html>
